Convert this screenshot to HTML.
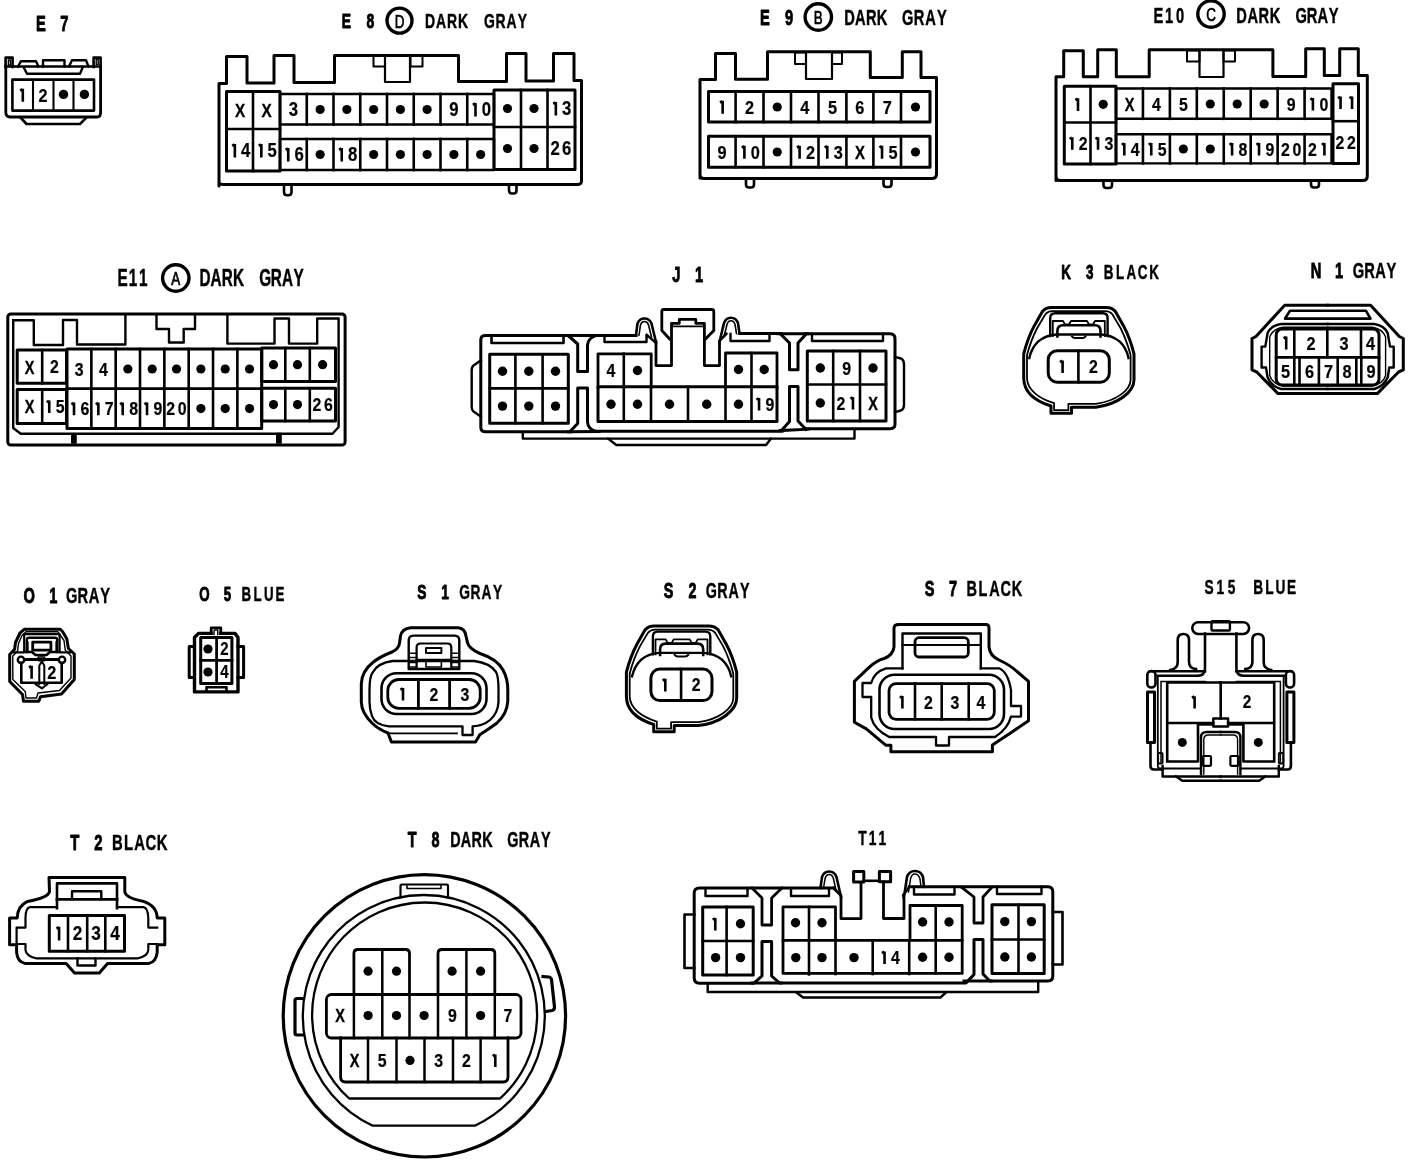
<!DOCTYPE html>
<html><head><meta charset="utf-8"><style>
html,body{margin:0;padding:0;background:#fff;}
svg{display:block;will-change:transform;}
text{font-family:"Liberation Sans",sans-serif;}
</style></head><body>
<svg width="1408" height="1160" viewBox="0 0 1408 1160" stroke="#000" stroke-linejoin="round" stroke-linecap="square" fill="none">
<rect x="0" y="0" width="1408" height="1160" fill="#fff" stroke="none"/>
<text transform="translate(40.95,30.60) scale(0.66,1)" font-size="22.22" font-weight="bold" text-anchor="middle" stroke="#000" stroke-width="0.9" fill="#000">E</text>
<text transform="translate(64.40,30.60) scale(0.66,1)" font-size="22.22" font-weight="bold" text-anchor="middle" stroke="#000" stroke-width="0.9" fill="#000">7</text>
<path d="M5.6,67 V57.6 H12.6 V67" stroke-width="2.6" fill="none" />
<rect x="8.4" y="60" width="2" height="5" rx="0" stroke-width="1.4" fill="none"/>
<path d="M93.6,67 V57.6 H100.6 V67" stroke-width="2.6" fill="none" />
<rect x="96.2" y="59.5" width="2" height="5" rx="0" stroke-width="1.4" fill="none"/>
<line x1="6" y1="66.5" x2="100" y2="66.5" stroke-width="2.6"/>
<path d="M18,66.5 L21,61.2 H36 L38.5,66.5" stroke-width="2.4" fill="none" />
<path d="M43,66.5 V60.2 H64.5 V66.5" stroke-width="2.4" fill="none" />
<path d="M69,66.5 L72,60.2 H86 L88.5,66.5" stroke-width="2.4" fill="none" />
<path d="M24,68 L27,73.8 H80 L82.5,68" stroke-width="2.4" fill="none" />
<path d="M5.8,66 V112 Q5.8,117 10,117 H97 Q100.6,117 100.6,112.5 V66" stroke-width="2.8" fill="none" />
<rect x="12.4" y="79.6" width="81.6" height="31" rx="0" stroke-width="2.6" fill="none"/>
<line x1="33" y1="80.5" x2="33" y2="110" stroke-width="2.1"/>
<line x1="53.5" y1="80.5" x2="53.5" y2="110" stroke-width="2.1"/>
<line x1="73.5" y1="80.5" x2="73.5" y2="110" stroke-width="2.1"/>
<path d="M20.5,117.5 L26.5,124 H80 L86.5,117.5" stroke-width="2.6" fill="none" />
<path d="M20.20,90.60 L22.50,89.10 M22.80,88.80 V101.80" stroke-width="2.6" stroke-linecap="butt" fill="none"/>
<text transform="translate(43.00,101.80) scale(0.86,1)" font-size="19.00" font-weight="bold" text-anchor="middle" stroke="#000" stroke-width="0.2" fill="#000">2</text>
<circle cx="63.5" cy="94.4" r="4.7" fill="#000" stroke="none"/>
<circle cx="84.4" cy="94.4" r="4.7" fill="#000" stroke="none"/>
<text transform="translate(346.30,27.60) scale(0.66,1)" font-size="21.12" font-weight="bold" text-anchor="middle" stroke="#000" stroke-width="0.9" fill="#000">E</text>
<text transform="translate(370.35,27.60) scale(0.66,1)" font-size="21.12" font-weight="bold" text-anchor="middle" stroke="#000" stroke-width="0.9" fill="#000">8</text>
<text transform="translate(429.91,27.60) scale(0.66,1)" font-size="21.12" font-weight="bold" text-anchor="middle" stroke="#000" stroke-width="0.45" fill="#000">D</text>
<text transform="translate(440.94,27.60) scale(0.66,1)" font-size="21.12" font-weight="bold" text-anchor="middle" stroke="#000" stroke-width="0.45" fill="#000">A</text>
<text transform="translate(451.96,27.60) scale(0.66,1)" font-size="21.12" font-weight="bold" text-anchor="middle" stroke="#000" stroke-width="0.45" fill="#000">R</text>
<text transform="translate(462.99,27.60) scale(0.66,1)" font-size="21.12" font-weight="bold" text-anchor="middle" stroke="#000" stroke-width="0.45" fill="#000">K</text>
<text transform="translate(489.50,27.60) scale(0.66,1)" font-size="21.12" font-weight="bold" text-anchor="middle" stroke="#000" stroke-width="0.45" fill="#000">G</text>
<text transform="translate(500.50,27.60) scale(0.66,1)" font-size="21.12" font-weight="bold" text-anchor="middle" stroke="#000" stroke-width="0.45" fill="#000">R</text>
<text transform="translate(511.50,27.60) scale(0.66,1)" font-size="21.12" font-weight="bold" text-anchor="middle" stroke="#000" stroke-width="0.45" fill="#000">A</text>
<text transform="translate(522.50,27.60) scale(0.66,1)" font-size="21.12" font-weight="bold" text-anchor="middle" stroke="#000" stroke-width="0.45" fill="#000">Y</text>
<circle cx="399.5" cy="20.6" r="12.5" stroke-width="3.4" fill="none"/>
<text transform="translate(399.50,27.50) scale(0.7,1)" font-size="19.20" font-weight="normal" text-anchor="middle" stroke="#000" stroke-width="0.7" fill="#000">D</text>
<path d="M219,186 V83.5 H226.5 V56.5 H247 V83 H274 V55.5 H294 V82.5 H334.5 V55.5 H458.5 V81.5 H506.5 V53.5 H526 V81 H553.5 V53.5 H574 V80.5 H581.5 V181 Q581.5,184.5 577,184.5 H224 Q219,184.5 219,182 Z" stroke-width="3.0" fill="none" />
<rect x="373.5" y="56" width="11.5" height="10.5" rx="0" stroke-width="2.0" fill="none"/>
<rect x="410.5" y="56" width="12" height="10.5" rx="0" stroke-width="2.0" fill="none"/>
<path d="M385,56 V82 H410 V56" stroke-width="2.2" fill="none" />
<path d="M284,186.5 V192 Q284,195.2 287,195.2 H288.5 Q291.5,195.2 291.5,192 V186.5" stroke-width="2.6" fill="none" />
<path d="M509,185 V190.5 Q509,193.5 512,193.5 H513.5 Q516.5,193.5 516.5,190.5 V185" stroke-width="2.6" fill="none" />
<rect x="226.5" y="91.5" width="53.5" height="79.5" rx="0" stroke-width="3.0" fill="none"/>
<line x1="226.5" y1="129" x2="280" y2="129" stroke-width="2.6"/>
<line x1="253" y1="91.5" x2="253" y2="171" stroke-width="2.6"/>
<rect x="280" y="94" width="214" height="30.5" rx="0" stroke-width="2.4" fill="none"/>
<rect x="280" y="139" width="214" height="31" rx="0" stroke-width="2.4" fill="none"/>
<line x1="306.75" y1="94" x2="306.75" y2="124.5" stroke-width="2.6"/>
<line x1="306.75" y1="139" x2="306.75" y2="170" stroke-width="2.6"/>
<line x1="333.5" y1="94" x2="333.5" y2="124.5" stroke-width="2.6"/>
<line x1="333.5" y1="139" x2="333.5" y2="170" stroke-width="2.6"/>
<line x1="360.25" y1="94" x2="360.25" y2="124.5" stroke-width="2.6"/>
<line x1="360.25" y1="139" x2="360.25" y2="170" stroke-width="2.6"/>
<line x1="387.0" y1="94" x2="387.0" y2="124.5" stroke-width="2.6"/>
<line x1="387.0" y1="139" x2="387.0" y2="170" stroke-width="2.6"/>
<line x1="413.75" y1="94" x2="413.75" y2="124.5" stroke-width="2.6"/>
<line x1="413.75" y1="139" x2="413.75" y2="170" stroke-width="2.6"/>
<line x1="440.5" y1="94" x2="440.5" y2="124.5" stroke-width="2.6"/>
<line x1="440.5" y1="139" x2="440.5" y2="170" stroke-width="2.6"/>
<line x1="467.25" y1="94" x2="467.25" y2="124.5" stroke-width="2.6"/>
<line x1="467.25" y1="139" x2="467.25" y2="170" stroke-width="2.6"/>
<rect x="494" y="90" width="81" height="79.5" rx="0" stroke-width="3.0" fill="none"/>
<line x1="494" y1="127" x2="575" y2="127" stroke-width="2.6"/>
<line x1="521" y1="90" x2="521" y2="169.5" stroke-width="2.6"/>
<line x1="547.5" y1="90" x2="547.5" y2="169.5" stroke-width="2.6"/>
<text transform="translate(240.00,117.28) scale(0.8,1)" font-size="19.11" font-weight="bold" text-anchor="middle" stroke="#000" stroke-width="0.35" fill="#000">X</text>
<path d="M232.25,145.92 L234.55,144.42 M234.85,144.12 V157.48" stroke-width="2.6" stroke-linecap="butt" fill="none"/>
<text transform="translate(245.75,157.48) scale(0.86,1)" font-size="19.50" font-weight="bold" text-anchor="middle" stroke="#000" stroke-width="0.2" fill="#000">4</text>
<text transform="translate(266.50,117.28) scale(0.8,1)" font-size="19.11" font-weight="bold" text-anchor="middle" stroke="#000" stroke-width="0.35" fill="#000">X</text>
<path d="M258.75,145.92 L261.05,144.42 M261.35,144.12 V157.48" stroke-width="2.6" stroke-linecap="butt" fill="none"/>
<text transform="translate(272.25,157.48) scale(0.86,1)" font-size="19.50" font-weight="bold" text-anchor="middle" stroke="#000" stroke-width="0.2" fill="#000">5</text>
<text transform="translate(293.38,116.48) scale(0.86,1)" font-size="19.50" font-weight="bold" text-anchor="middle" stroke="#000" stroke-width="0.2" fill="#000">3</text>
<path d="M285.62,149.92 L287.93,148.42 M288.23,148.12 V161.48" stroke-width="2.6" stroke-linecap="butt" fill="none"/>
<text transform="translate(299.12,161.48) scale(0.86,1)" font-size="19.50" font-weight="bold" text-anchor="middle" stroke="#000" stroke-width="0.2" fill="#000">6</text>
<circle cx="320.125" cy="109.5" r="4.6" fill="#000" stroke="none"/>
<circle cx="320.125" cy="154.5" r="4.6" fill="#000" stroke="none"/>
<circle cx="346.875" cy="109.5" r="4.6" fill="#000" stroke="none"/>
<path d="M339.12,149.92 L341.43,148.42 M341.73,148.12 V161.48" stroke-width="2.6" stroke-linecap="butt" fill="none"/>
<text transform="translate(352.62,161.48) scale(0.86,1)" font-size="19.50" font-weight="bold" text-anchor="middle" stroke="#000" stroke-width="0.2" fill="#000">8</text>
<circle cx="373.625" cy="109.5" r="4.6" fill="#000" stroke="none"/>
<circle cx="373.625" cy="154.5" r="4.6" fill="#000" stroke="none"/>
<circle cx="400.375" cy="109.5" r="4.6" fill="#000" stroke="none"/>
<circle cx="400.375" cy="154.5" r="4.6" fill="#000" stroke="none"/>
<circle cx="427.125" cy="109.5" r="4.6" fill="#000" stroke="none"/>
<circle cx="427.125" cy="154.5" r="4.6" fill="#000" stroke="none"/>
<text transform="translate(453.88,116.48) scale(0.86,1)" font-size="19.50" font-weight="bold" text-anchor="middle" stroke="#000" stroke-width="0.2" fill="#000">9</text>
<circle cx="453.875" cy="154.5" r="4.6" fill="#000" stroke="none"/>
<path d="M472.88,104.92 L475.18,103.42 M475.48,103.12 V116.48" stroke-width="2.6" stroke-linecap="butt" fill="none"/>
<text transform="translate(486.38,116.48) scale(0.86,1)" font-size="19.50" font-weight="bold" text-anchor="middle" stroke="#000" stroke-width="0.2" fill="#000">0</text>
<circle cx="480.625" cy="154.5" r="4.6" fill="#000" stroke="none"/>
<circle cx="507.5" cy="108.5" r="4.6" fill="#000" stroke="none"/>
<circle cx="507.5" cy="148.5" r="4.6" fill="#000" stroke="none"/>
<circle cx="534" cy="108.5" r="4.6" fill="#000" stroke="none"/>
<circle cx="534" cy="148.5" r="4.6" fill="#000" stroke="none"/>
<path d="M553.25,103.92 L555.55,102.42 M555.85,102.12 V115.48" stroke-width="2.6" stroke-linecap="butt" fill="none"/>
<text transform="translate(566.75,115.48) scale(0.86,1)" font-size="19.50" font-weight="bold" text-anchor="middle" stroke="#000" stroke-width="0.2" fill="#000">3</text>
<text transform="translate(555.25,155.48) scale(0.86,1)" font-size="19.50" font-weight="bold" text-anchor="middle" stroke="#000" stroke-width="0.2" fill="#000">2</text>
<text transform="translate(566.75,155.48) scale(0.86,1)" font-size="19.50" font-weight="bold" text-anchor="middle" stroke="#000" stroke-width="0.2" fill="#000">6</text>
<text transform="translate(765.00,24.60) scale(0.66,1)" font-size="22.22" font-weight="bold" text-anchor="middle" stroke="#000" stroke-width="0.9" fill="#000">E</text>
<text transform="translate(789.00,24.60) scale(0.66,1)" font-size="22.22" font-weight="bold" text-anchor="middle" stroke="#000" stroke-width="0.9" fill="#000">9</text>
<text transform="translate(849.45,24.60) scale(0.66,1)" font-size="22.22" font-weight="bold" text-anchor="middle" stroke="#000" stroke-width="0.45" fill="#000">D</text>
<text transform="translate(860.35,24.60) scale(0.66,1)" font-size="22.22" font-weight="bold" text-anchor="middle" stroke="#000" stroke-width="0.45" fill="#000">A</text>
<text transform="translate(871.25,24.60) scale(0.66,1)" font-size="22.22" font-weight="bold" text-anchor="middle" stroke="#000" stroke-width="0.45" fill="#000">R</text>
<text transform="translate(882.15,24.60) scale(0.66,1)" font-size="22.22" font-weight="bold" text-anchor="middle" stroke="#000" stroke-width="0.45" fill="#000">K</text>
<text transform="translate(907.70,24.60) scale(0.66,1)" font-size="22.22" font-weight="bold" text-anchor="middle" stroke="#000" stroke-width="0.45" fill="#000">G</text>
<text transform="translate(919.10,24.60) scale(0.66,1)" font-size="22.22" font-weight="bold" text-anchor="middle" stroke="#000" stroke-width="0.45" fill="#000">R</text>
<text transform="translate(930.50,24.60) scale(0.66,1)" font-size="22.22" font-weight="bold" text-anchor="middle" stroke="#000" stroke-width="0.45" fill="#000">A</text>
<text transform="translate(941.90,24.60) scale(0.66,1)" font-size="22.22" font-weight="bold" text-anchor="middle" stroke="#000" stroke-width="0.45" fill="#000">Y</text>
<circle cx="818.3" cy="17" r="13.2" stroke-width="3.4" fill="none"/>
<text transform="translate(818.30,24.00) scale(0.7,1)" font-size="19.20" font-weight="normal" text-anchor="middle" stroke="#000" stroke-width="0.7" fill="#000">B</text>
<path d="M700,178 V79.5 H715.5 V53.5 H735.5 V79.2 H767.5 V51.8 H870.3 V77.5 H902.3 V51.8 H921 V77.5 H936.5 V174 Q936.5,178.5 932,178.5 H704 Q700,178.5 700,174 Z" stroke-width="3.0" fill="none" />
<rect x="795" y="52.5" width="11" height="11.5" rx="0" stroke-width="2.0" fill="none"/>
<rect x="832" y="52.5" width="10" height="11.5" rx="0" stroke-width="2.0" fill="none"/>
<path d="M806,53 V79 H832 V53" stroke-width="2.2" fill="none" />
<path d="M746,179 V184.5 Q746,187.5 749,187.5 H751 Q754,187.5 754,184.5 V179" stroke-width="2.6" fill="none" />
<path d="M883.5,178.5 V184 Q883.5,187 886.5,187 H888.5 Q891.5,187 891.5,184 V178.5" stroke-width="2.6" fill="none" />
<rect x="708.5" y="91.5" width="221.5" height="30.5" rx="0" stroke-width="3.0" fill="none"/>
<rect x="708.5" y="136.2" width="221.5" height="31" rx="0" stroke-width="3.0" fill="none"/>
<line x1="735.6" y1="91.5" x2="735.6" y2="122" stroke-width="2.6"/>
<line x1="735.6" y1="136.2" x2="735.6" y2="167.2" stroke-width="2.6"/>
<line x1="763.5" y1="91.5" x2="763.5" y2="122" stroke-width="2.6"/>
<line x1="763.5" y1="136.2" x2="763.5" y2="167.2" stroke-width="2.6"/>
<line x1="791" y1="91.5" x2="791" y2="122" stroke-width="2.6"/>
<line x1="791" y1="136.2" x2="791" y2="167.2" stroke-width="2.6"/>
<line x1="818.5" y1="91.5" x2="818.5" y2="122" stroke-width="2.6"/>
<line x1="818.5" y1="136.2" x2="818.5" y2="167.2" stroke-width="2.6"/>
<line x1="846.4" y1="91.5" x2="846.4" y2="122" stroke-width="2.6"/>
<line x1="846.4" y1="136.2" x2="846.4" y2="167.2" stroke-width="2.6"/>
<line x1="873.4" y1="91.5" x2="873.4" y2="122" stroke-width="2.6"/>
<line x1="873.4" y1="136.2" x2="873.4" y2="167.2" stroke-width="2.6"/>
<line x1="901" y1="91.5" x2="901" y2="122" stroke-width="2.6"/>
<line x1="901" y1="136.2" x2="901" y2="167.2" stroke-width="2.6"/>
<path d="M720.05,102.60 L722.35,101.10 M722.65,100.80 V113.80" stroke-width="2.6" stroke-linecap="butt" fill="none"/>
<text transform="translate(722.05,158.80) scale(0.86,1)" font-size="19.00" font-weight="bold" text-anchor="middle" stroke="#000" stroke-width="0.2" fill="#000">9</text>
<text transform="translate(749.55,113.80) scale(0.86,1)" font-size="19.00" font-weight="bold" text-anchor="middle" stroke="#000" stroke-width="0.2" fill="#000">2</text>
<path d="M741.80,147.60 L744.10,146.10 M744.40,145.80 V158.80" stroke-width="2.6" stroke-linecap="butt" fill="none"/>
<text transform="translate(755.30,158.80) scale(0.86,1)" font-size="19.00" font-weight="bold" text-anchor="middle" stroke="#000" stroke-width="0.2" fill="#000">0</text>
<circle cx="777.25" cy="107" r="4.6" fill="#000" stroke="none"/>
<circle cx="777.25" cy="152" r="4.6" fill="#000" stroke="none"/>
<text transform="translate(804.75,113.80) scale(0.86,1)" font-size="19.00" font-weight="bold" text-anchor="middle" stroke="#000" stroke-width="0.2" fill="#000">4</text>
<path d="M797.00,147.60 L799.30,146.10 M799.60,145.80 V158.80" stroke-width="2.6" stroke-linecap="butt" fill="none"/>
<text transform="translate(810.50,158.80) scale(0.86,1)" font-size="19.00" font-weight="bold" text-anchor="middle" stroke="#000" stroke-width="0.2" fill="#000">2</text>
<text transform="translate(832.45,113.80) scale(0.86,1)" font-size="19.00" font-weight="bold" text-anchor="middle" stroke="#000" stroke-width="0.2" fill="#000">5</text>
<path d="M824.70,147.60 L827.00,146.10 M827.30,145.80 V158.80" stroke-width="2.6" stroke-linecap="butt" fill="none"/>
<text transform="translate(838.20,158.80) scale(0.86,1)" font-size="19.00" font-weight="bold" text-anchor="middle" stroke="#000" stroke-width="0.2" fill="#000">3</text>
<text transform="translate(859.90,113.80) scale(0.86,1)" font-size="19.00" font-weight="bold" text-anchor="middle" stroke="#000" stroke-width="0.2" fill="#000">6</text>
<text transform="translate(859.90,159.10) scale(0.8,1)" font-size="18.62" font-weight="bold" text-anchor="middle" stroke="#000" stroke-width="0.35" fill="#000">X</text>
<text transform="translate(887.20,113.80) scale(0.86,1)" font-size="19.00" font-weight="bold" text-anchor="middle" stroke="#000" stroke-width="0.2" fill="#000">7</text>
<path d="M879.45,147.60 L881.75,146.10 M882.05,145.80 V158.80" stroke-width="2.6" stroke-linecap="butt" fill="none"/>
<text transform="translate(892.95,158.80) scale(0.86,1)" font-size="19.00" font-weight="bold" text-anchor="middle" stroke="#000" stroke-width="0.2" fill="#000">5</text>
<circle cx="915.5" cy="107" r="4.6" fill="#000" stroke="none"/>
<circle cx="915.5" cy="152" r="4.6" fill="#000" stroke="none"/>
<text transform="translate(1158.27,22.60) scale(0.66,1)" font-size="22.22" font-weight="bold" text-anchor="middle" stroke="#000" stroke-width="0.45" fill="#000">E</text>
<text transform="translate(1169.20,22.60) scale(0.66,1)" font-size="22.22" font-weight="bold" text-anchor="middle" stroke="#000" stroke-width="0.45" fill="#000">1</text>
<text transform="translate(1180.13,22.60) scale(0.66,1)" font-size="22.22" font-weight="bold" text-anchor="middle" stroke="#000" stroke-width="0.45" fill="#000">0</text>
<text transform="translate(1241.56,22.60) scale(0.66,1)" font-size="22.22" font-weight="bold" text-anchor="middle" stroke="#000" stroke-width="0.45" fill="#000">D</text>
<text transform="translate(1252.69,22.60) scale(0.66,1)" font-size="22.22" font-weight="bold" text-anchor="middle" stroke="#000" stroke-width="0.45" fill="#000">A</text>
<text transform="translate(1263.81,22.60) scale(0.66,1)" font-size="22.22" font-weight="bold" text-anchor="middle" stroke="#000" stroke-width="0.45" fill="#000">R</text>
<text transform="translate(1274.94,22.60) scale(0.66,1)" font-size="22.22" font-weight="bold" text-anchor="middle" stroke="#000" stroke-width="0.45" fill="#000">K</text>
<text transform="translate(1301.20,22.60) scale(0.66,1)" font-size="22.22" font-weight="bold" text-anchor="middle" stroke="#000" stroke-width="0.45" fill="#000">G</text>
<text transform="translate(1312.00,22.60) scale(0.66,1)" font-size="22.22" font-weight="bold" text-anchor="middle" stroke="#000" stroke-width="0.45" fill="#000">R</text>
<text transform="translate(1322.80,22.60) scale(0.66,1)" font-size="22.22" font-weight="bold" text-anchor="middle" stroke="#000" stroke-width="0.45" fill="#000">A</text>
<text transform="translate(1333.60,22.60) scale(0.66,1)" font-size="22.22" font-weight="bold" text-anchor="middle" stroke="#000" stroke-width="0.45" fill="#000">Y</text>
<circle cx="1211" cy="14" r="13.2" stroke-width="3.4" fill="none"/>
<text transform="translate(1211.00,21.00) scale(0.7,1)" font-size="19.20" font-weight="normal" text-anchor="middle" stroke="#000" stroke-width="0.7" fill="#000">C</text>
<path d="M1056,180.5 V76.8 H1063.7 V50.8 H1083.3 V76.8 H1097.7 V49.8 H1116.3 V76.8 H1149.2 V49.8 H1272.9 V76.5 H1305.7 V48.7 H1324.3 V75.5 H1339.7 V48.7 H1358.3 V75.5 H1367.3 V176 Q1367.3,180.5 1363,180.5 H1060 Q1056,180.5 1056,176 Z" stroke-width="3.0" fill="none" />
<rect x="1187" y="50.5" width="12.5" height="11" rx="0" stroke-width="2.0" fill="none"/>
<rect x="1223.5" y="50.5" width="11.5" height="11" rx="0" stroke-width="2.0" fill="none"/>
<path d="M1199.5,50.5 V77 H1223.5 V50.5" stroke-width="2.2" fill="none" />
<path d="M1103.5,181 V185 Q1103.5,188 1106.5,188 H1109 Q1112,188 1112,185 V181" stroke-width="2.6" fill="none" />
<path d="M1311,180.5 V184.5 Q1311,187.5 1314,187.5 H1316 Q1319,187.5 1319,184.5 V180.5" stroke-width="2.6" fill="none" />
<rect x="1064.3" y="86.2" width="51.7" height="77.8" rx="0" stroke-width="3.0" fill="none"/>
<line x1="1064.3" y1="122.5" x2="1116" y2="122.5" stroke-width="2.6"/>
<line x1="1090.5" y1="86.2" x2="1090.5" y2="164" stroke-width="2.6"/>
<rect x="1116" y="88.5" width="215.5" height="30.3" rx="0" stroke-width="2.4" fill="none"/>
<rect x="1116" y="134.2" width="215.5" height="29.2" rx="0" stroke-width="2.4" fill="none"/>
<line x1="1142.94" y1="88.5" x2="1142.94" y2="118.8" stroke-width="2.6"/>
<line x1="1142.94" y1="134.2" x2="1142.94" y2="163.4" stroke-width="2.6"/>
<line x1="1169.88" y1="88.5" x2="1169.88" y2="118.8" stroke-width="2.6"/>
<line x1="1169.88" y1="134.2" x2="1169.88" y2="163.4" stroke-width="2.6"/>
<line x1="1196.82" y1="88.5" x2="1196.82" y2="118.8" stroke-width="2.6"/>
<line x1="1196.82" y1="134.2" x2="1196.82" y2="163.4" stroke-width="2.6"/>
<line x1="1223.76" y1="88.5" x2="1223.76" y2="118.8" stroke-width="2.6"/>
<line x1="1223.76" y1="134.2" x2="1223.76" y2="163.4" stroke-width="2.6"/>
<line x1="1250.7" y1="88.5" x2="1250.7" y2="118.8" stroke-width="2.6"/>
<line x1="1250.7" y1="134.2" x2="1250.7" y2="163.4" stroke-width="2.6"/>
<line x1="1277.64" y1="88.5" x2="1277.64" y2="118.8" stroke-width="2.6"/>
<line x1="1277.64" y1="134.2" x2="1277.64" y2="163.4" stroke-width="2.6"/>
<line x1="1304.58" y1="88.5" x2="1304.58" y2="118.8" stroke-width="2.6"/>
<line x1="1304.58" y1="134.2" x2="1304.58" y2="163.4" stroke-width="2.6"/>
<rect x="1333" y="83.8" width="25.5" height="79.6" rx="0" stroke-width="3.0" fill="none"/>
<line x1="1333" y1="121.2" x2="1358.5" y2="121.2" stroke-width="2.6"/>
<path d="M1075.40,100.08 L1077.70,98.58 M1078.00,98.28 V110.92" stroke-width="2.6" stroke-linecap="butt" fill="none"/>
<path d="M1069.65,138.98 L1071.95,137.48 M1072.25,137.18 V149.82" stroke-width="2.6" stroke-linecap="butt" fill="none"/>
<text transform="translate(1083.15,149.82) scale(0.86,1)" font-size="18.50" font-weight="bold" text-anchor="middle" stroke="#000" stroke-width="0.2" fill="#000">2</text>
<circle cx="1103.2" cy="104.3" r="4.6" fill="#000" stroke="none"/>
<path d="M1095.45,138.98 L1097.75,137.48 M1098.05,137.18 V149.82" stroke-width="2.6" stroke-linecap="butt" fill="none"/>
<text transform="translate(1108.95,149.82) scale(0.86,1)" font-size="18.50" font-weight="bold" text-anchor="middle" stroke="#000" stroke-width="0.2" fill="#000">3</text>
<text transform="translate(1129.47,110.92) scale(0.8,1)" font-size="18.13" font-weight="bold" text-anchor="middle" stroke="#000" stroke-width="0.35" fill="#000">X</text>
<path d="M1121.72,144.78 L1124.02,143.28 M1124.32,142.98 V155.62" stroke-width="2.6" stroke-linecap="butt" fill="none"/>
<text transform="translate(1135.22,155.62) scale(0.86,1)" font-size="18.50" font-weight="bold" text-anchor="middle" stroke="#000" stroke-width="0.2" fill="#000">4</text>
<text transform="translate(1156.41,110.62) scale(0.86,1)" font-size="18.50" font-weight="bold" text-anchor="middle" stroke="#000" stroke-width="0.2" fill="#000">4</text>
<path d="M1148.66,144.78 L1150.96,143.28 M1151.26,142.98 V155.62" stroke-width="2.6" stroke-linecap="butt" fill="none"/>
<text transform="translate(1162.16,155.62) scale(0.86,1)" font-size="18.50" font-weight="bold" text-anchor="middle" stroke="#000" stroke-width="0.2" fill="#000">5</text>
<text transform="translate(1183.35,110.62) scale(0.86,1)" font-size="18.50" font-weight="bold" text-anchor="middle" stroke="#000" stroke-width="0.2" fill="#000">5</text>
<circle cx="1183.35" cy="149" r="4.6" fill="#000" stroke="none"/>
<circle cx="1210.29" cy="104" r="4.6" fill="#000" stroke="none"/>
<circle cx="1210.29" cy="149" r="4.6" fill="#000" stroke="none"/>
<circle cx="1237.23" cy="104" r="4.6" fill="#000" stroke="none"/>
<path d="M1229.48,144.78 L1231.78,143.28 M1232.08,142.98 V155.62" stroke-width="2.6" stroke-linecap="butt" fill="none"/>
<text transform="translate(1242.98,155.62) scale(0.86,1)" font-size="18.50" font-weight="bold" text-anchor="middle" stroke="#000" stroke-width="0.2" fill="#000">8</text>
<circle cx="1264.17" cy="104" r="4.6" fill="#000" stroke="none"/>
<path d="M1256.42,144.78 L1258.72,143.28 M1259.02,142.98 V155.62" stroke-width="2.6" stroke-linecap="butt" fill="none"/>
<text transform="translate(1269.92,155.62) scale(0.86,1)" font-size="18.50" font-weight="bold" text-anchor="middle" stroke="#000" stroke-width="0.2" fill="#000">9</text>
<text transform="translate(1291.11,110.62) scale(0.86,1)" font-size="18.50" font-weight="bold" text-anchor="middle" stroke="#000" stroke-width="0.2" fill="#000">9</text>
<text transform="translate(1285.36,155.62) scale(0.86,1)" font-size="18.50" font-weight="bold" text-anchor="middle" stroke="#000" stroke-width="0.2" fill="#000">2</text>
<text transform="translate(1296.86,155.62) scale(0.86,1)" font-size="18.50" font-weight="bold" text-anchor="middle" stroke="#000" stroke-width="0.2" fill="#000">0</text>
<path d="M1310.30,99.78 L1312.60,98.28 M1312.90,97.98 V110.62" stroke-width="2.6" stroke-linecap="butt" fill="none"/>
<text transform="translate(1323.80,110.62) scale(0.86,1)" font-size="18.50" font-weight="bold" text-anchor="middle" stroke="#000" stroke-width="0.2" fill="#000">0</text>
<text transform="translate(1312.30,155.62) scale(0.86,1)" font-size="18.50" font-weight="bold" text-anchor="middle" stroke="#000" stroke-width="0.2" fill="#000">2</text>
<path d="M1321.80,144.78 L1324.10,143.28 M1324.40,142.98 V155.62" stroke-width="2.6" stroke-linecap="butt" fill="none"/>
<path d="M1337.95,98.28 L1340.25,96.78 M1340.55,96.48 V109.12" stroke-width="2.6" stroke-linecap="butt" fill="none"/>
<path d="M1349.45,98.28 L1351.75,96.78 M1352.05,96.48 V109.12" stroke-width="2.6" stroke-linecap="butt" fill="none"/>
<text transform="translate(1339.95,148.92) scale(0.86,1)" font-size="18.50" font-weight="bold" text-anchor="middle" stroke="#000" stroke-width="0.2" fill="#000">2</text>
<text transform="translate(1351.45,148.92) scale(0.86,1)" font-size="18.50" font-weight="bold" text-anchor="middle" stroke="#000" stroke-width="0.2" fill="#000">2</text>
<text transform="translate(122.72,286.30) scale(0.66,1)" font-size="23.18" font-weight="bold" text-anchor="middle" stroke="#000" stroke-width="0.45" fill="#000">E</text>
<text transform="translate(132.95,286.30) scale(0.66,1)" font-size="23.18" font-weight="bold" text-anchor="middle" stroke="#000" stroke-width="0.45" fill="#000">1</text>
<text transform="translate(143.18,286.30) scale(0.66,1)" font-size="23.18" font-weight="bold" text-anchor="middle" stroke="#000" stroke-width="0.45" fill="#000">1</text>
<text transform="translate(204.97,286.30) scale(0.66,1)" font-size="23.18" font-weight="bold" text-anchor="middle" stroke="#000" stroke-width="0.45" fill="#000">D</text>
<text transform="translate(216.12,286.30) scale(0.66,1)" font-size="23.18" font-weight="bold" text-anchor="middle" stroke="#000" stroke-width="0.45" fill="#000">A</text>
<text transform="translate(227.28,286.30) scale(0.66,1)" font-size="23.18" font-weight="bold" text-anchor="middle" stroke="#000" stroke-width="0.45" fill="#000">R</text>
<text transform="translate(238.43,286.30) scale(0.66,1)" font-size="23.18" font-weight="bold" text-anchor="middle" stroke="#000" stroke-width="0.45" fill="#000">K</text>
<text transform="translate(265.10,286.30) scale(0.66,1)" font-size="23.18" font-weight="bold" text-anchor="middle" stroke="#000" stroke-width="0.45" fill="#000">G</text>
<text transform="translate(276.30,286.30) scale(0.66,1)" font-size="23.18" font-weight="bold" text-anchor="middle" stroke="#000" stroke-width="0.45" fill="#000">R</text>
<text transform="translate(287.50,286.30) scale(0.66,1)" font-size="23.18" font-weight="bold" text-anchor="middle" stroke="#000" stroke-width="0.45" fill="#000">A</text>
<text transform="translate(298.70,286.30) scale(0.66,1)" font-size="23.18" font-weight="bold" text-anchor="middle" stroke="#000" stroke-width="0.45" fill="#000">Y</text>
<circle cx="175.8" cy="278" r="13.2" stroke-width="3.4" fill="none"/>
<text transform="translate(175.80,285.00) scale(0.7,1)" font-size="19.20" font-weight="normal" text-anchor="middle" stroke="#000" stroke-width="0.7" fill="#000">A</text>
<rect x="7.8" y="313.9" width="337.3" height="131.1" rx="3" stroke-width="3.0" fill="none"/>
<path d="M13.2,320.2 H33.8 V345 H63 V320 H77 V344.5 H125.4 V314.5" stroke-width="2.4" fill="none" />
<path d="M156.5,314.5 V329 H169 V342.5 H183.7 V329 H195 V314.5" stroke-width="2.4" fill="none" />
<path d="M227.4,314.5 V343.6 H274.5 V318.5 H289 V343.6 H317.2 V318.5 H338.6 V427 L332.5,433.7 H20.7 L13.2,428 V320.2" stroke-width="2.4" fill="none" />
<rect x="71.8" y="434.5" width="4.2" height="8.5" rx="0" stroke-width="1.6" fill="#000"/>
<rect x="276.8" y="433.5" width="4.2" height="9.5" rx="0" stroke-width="1.6" fill="#000"/>
<rect x="17.2" y="350" width="49.3" height="33.3" rx="0" stroke-width="3.0" fill="none"/>
<rect x="17.2" y="389.5" width="49.3" height="33.9" rx="0" stroke-width="3.0" fill="none"/>
<line x1="42.2" y1="350" x2="42.2" y2="383.3" stroke-width="2.6"/>
<line x1="42.2" y1="389.5" x2="42.2" y2="423.4" stroke-width="2.6"/>
<rect x="67" y="349" width="194.7" height="79.6" rx="0" stroke-width="3.0" fill="none"/>
<line x1="67" y1="388.6" x2="261.7" y2="388.6" stroke-width="2.8"/>
<line x1="91.34" y1="349" x2="91.34" y2="428.6" stroke-width="2.6"/>
<line x1="115.68" y1="349" x2="115.68" y2="428.6" stroke-width="2.6"/>
<line x1="140.01999999999998" y1="349" x2="140.01999999999998" y2="428.6" stroke-width="2.6"/>
<line x1="164.36" y1="349" x2="164.36" y2="428.6" stroke-width="2.6"/>
<line x1="188.7" y1="349" x2="188.7" y2="428.6" stroke-width="2.6"/>
<line x1="213.04" y1="349" x2="213.04" y2="428.6" stroke-width="2.6"/>
<line x1="237.38" y1="349" x2="237.38" y2="428.6" stroke-width="2.6"/>
<rect x="261.7" y="348" width="73.8" height="33.4" rx="0" stroke-width="3.0" fill="none"/>
<rect x="261.7" y="388.2" width="73.8" height="32.8" rx="0" stroke-width="3.0" fill="none"/>
<line x1="285.3" y1="348" x2="285.3" y2="381.4" stroke-width="2.6"/>
<line x1="309.8" y1="348" x2="309.8" y2="381.4" stroke-width="2.6"/>
<line x1="285.3" y1="388.2" x2="285.3" y2="421" stroke-width="2.6"/>
<line x1="309.8" y1="388.2" x2="309.8" y2="421" stroke-width="2.6"/>
<text transform="translate(29.70,373.52) scale(0.8,1)" font-size="18.13" font-weight="bold" text-anchor="middle" stroke="#000" stroke-width="0.35" fill="#000">X</text>
<text transform="translate(29.70,413.42) scale(0.8,1)" font-size="18.13" font-weight="bold" text-anchor="middle" stroke="#000" stroke-width="0.35" fill="#000">X</text>
<text transform="translate(54.40,373.22) scale(0.86,1)" font-size="18.50" font-weight="bold" text-anchor="middle" stroke="#000" stroke-width="0.2" fill="#000">2</text>
<path d="M46.65,402.28 L48.95,400.78 M49.25,400.48 V413.12" stroke-width="2.6" stroke-linecap="butt" fill="none"/>
<text transform="translate(60.15,413.12) scale(0.86,1)" font-size="18.50" font-weight="bold" text-anchor="middle" stroke="#000" stroke-width="0.2" fill="#000">5</text>
<text transform="translate(79.17,375.62) scale(0.86,1)" font-size="18.50" font-weight="bold" text-anchor="middle" stroke="#000" stroke-width="0.2" fill="#000">3</text>
<path d="M71.42,404.38 L73.72,402.88 M74.02,402.58 V415.22" stroke-width="2.6" stroke-linecap="butt" fill="none"/>
<text transform="translate(84.92,415.22) scale(0.86,1)" font-size="18.50" font-weight="bold" text-anchor="middle" stroke="#000" stroke-width="0.2" fill="#000">6</text>
<text transform="translate(103.51,375.62) scale(0.86,1)" font-size="18.50" font-weight="bold" text-anchor="middle" stroke="#000" stroke-width="0.2" fill="#000">4</text>
<path d="M95.76,404.38 L98.06,402.88 M98.36,402.58 V415.22" stroke-width="2.6" stroke-linecap="butt" fill="none"/>
<text transform="translate(109.26,415.22) scale(0.86,1)" font-size="18.50" font-weight="bold" text-anchor="middle" stroke="#000" stroke-width="0.2" fill="#000">7</text>
<circle cx="127.85" cy="369" r="4.6" fill="#000" stroke="none"/>
<path d="M120.10,404.38 L122.40,402.88 M122.70,402.58 V415.22" stroke-width="2.6" stroke-linecap="butt" fill="none"/>
<text transform="translate(133.60,415.22) scale(0.86,1)" font-size="18.50" font-weight="bold" text-anchor="middle" stroke="#000" stroke-width="0.2" fill="#000">8</text>
<circle cx="152.19" cy="369" r="4.6" fill="#000" stroke="none"/>
<path d="M144.44,404.38 L146.74,402.88 M147.04,402.58 V415.22" stroke-width="2.6" stroke-linecap="butt" fill="none"/>
<text transform="translate(157.94,415.22) scale(0.86,1)" font-size="18.50" font-weight="bold" text-anchor="middle" stroke="#000" stroke-width="0.2" fill="#000">9</text>
<circle cx="176.53" cy="369" r="4.6" fill="#000" stroke="none"/>
<text transform="translate(170.78,415.22) scale(0.86,1)" font-size="18.50" font-weight="bold" text-anchor="middle" stroke="#000" stroke-width="0.2" fill="#000">2</text>
<text transform="translate(182.28,415.22) scale(0.86,1)" font-size="18.50" font-weight="bold" text-anchor="middle" stroke="#000" stroke-width="0.2" fill="#000">0</text>
<circle cx="200.87" cy="369" r="4.6" fill="#000" stroke="none"/>
<circle cx="200.87" cy="408.6" r="4.6" fill="#000" stroke="none"/>
<circle cx="225.21" cy="369" r="4.6" fill="#000" stroke="none"/>
<circle cx="225.21" cy="408.6" r="4.6" fill="#000" stroke="none"/>
<circle cx="249.55" cy="369" r="4.6" fill="#000" stroke="none"/>
<circle cx="249.55" cy="408.6" r="4.6" fill="#000" stroke="none"/>
<circle cx="273.5" cy="364.7" r="4.6" fill="#000" stroke="none"/>
<circle cx="273.5" cy="404.6" r="4.6" fill="#000" stroke="none"/>
<circle cx="297.5" cy="364.7" r="4.6" fill="#000" stroke="none"/>
<circle cx="297.5" cy="404.6" r="4.6" fill="#000" stroke="none"/>
<circle cx="322.6" cy="364.7" r="4.6" fill="#000" stroke="none"/>
<text transform="translate(316.85,411.22) scale(0.86,1)" font-size="18.50" font-weight="bold" text-anchor="middle" stroke="#000" stroke-width="0.2" fill="#000">2</text>
<text transform="translate(328.35,411.22) scale(0.86,1)" font-size="18.50" font-weight="bold" text-anchor="middle" stroke="#000" stroke-width="0.2" fill="#000">6</text>
<text transform="translate(676.25,281.60) scale(0.66,1)" font-size="22.22" font-weight="bold" text-anchor="middle" stroke="#000" stroke-width="0.9" fill="#000">J</text>
<text transform="translate(699.00,281.60) scale(0.66,1)" font-size="22.22" font-weight="bold" text-anchor="middle" stroke="#000" stroke-width="0.9" fill="#000">1</text>
<path d="M568.6,335.5 H485 Q480.8,335.5 480.8,340 V427 Q480.8,431.8 485.5,431.8 H571" stroke-width="3.0" fill="none" />
<path d="M480.8,360.5 L473.5,365.5 Q471.7,367 471.7,370 V407 Q471.7,410 473.5,411.5 L480.8,416.5" stroke-width="2.4" fill="none" />
<path d="M491.5,336 V343 H563.5 V336" stroke-width="2.6" fill="none" />
<path d="M568.6,336 L577.7,344 V371.5 H587.5 V345 Q588,338 596,335.6 H636" stroke-width="3.0" fill="none" />
<line x1="566" y1="335.6" x2="598" y2="335.4" stroke-width="3.0"/>
<path d="M570,431.5 L577.7,423.5 V388 H587.5 V422 Q588,429.5 596.5,431.4" stroke-width="3.0" fill="none" />
<line x1="568" y1="431.7" x2="599" y2="431.4" stroke-width="3.0"/>
<rect x="489.7" y="354.3" width="78.6" height="68.9" rx="0" stroke-width="3.0" fill="none"/>
<line x1="489.7" y1="388.4" x2="568.3" y2="388.4" stroke-width="2.6"/>
<line x1="515.4" y1="354.3" x2="515.4" y2="423.2" stroke-width="2.6"/>
<line x1="542.6" y1="354.3" x2="542.6" y2="423.2" stroke-width="2.6"/>
<circle cx="502.5" cy="371.2" r="4.7" fill="#000" stroke="none"/>
<circle cx="502.5" cy="406.1" r="4.7" fill="#000" stroke="none"/>
<circle cx="528.8" cy="371.2" r="4.7" fill="#000" stroke="none"/>
<circle cx="528.8" cy="406.1" r="4.7" fill="#000" stroke="none"/>
<circle cx="555.5" cy="371.2" r="4.7" fill="#000" stroke="none"/>
<circle cx="555.5" cy="406.1" r="4.7" fill="#000" stroke="none"/>
<path d="M604.5,335.2 V342 H646.5 V335.5 M646.8,334.8 L655,342" stroke-width="2.4" fill="none" />
<path d="M730.5,334 V341 H769.5 V334 M726.4,333.8 L719.4,341" stroke-width="2.4" fill="none" />
<path d="M669.7,339 L661.8,330.5 V311.5 Q661.8,309.5 664,309.5 H711.5 Q713.8,309.5 713.8,311.5 V330.5 L705.5,339" stroke-width="2.8" fill="none" />
<path d="M656,342 V365.6 H671.5 V323.3 H679.3 V319.4 H695.8 V323.3 H704.4 V365.6 H719.5 V342" stroke-width="2.8" fill="none" />
<line x1="672.5" y1="326.3" x2="703.5" y2="326.3" stroke-width="1.8"/>
<path d="M636,335 L637.5,323.5 Q639.5,318.5 644.5,318.5 Q649.5,318.5 651.5,323.5 L656,342" stroke-width="2.6" fill="none" />
<path d="M639,335 L640.5,325 Q641.5,321.5 644.5,321.5 Q647.5,321.5 648.5,325 L651.5,337" stroke-width="1.6" fill="none" />
<path d="M739.5,333.5 L738,323 Q736,317.8 731,317.8 Q726,317.8 724,323 L719.5,342" stroke-width="2.6" fill="none" />
<path d="M736.5,333.5 L735,324.5 Q734,320.8 731,320.8 Q728,320.8 727,324.5 L724,336.5" stroke-width="1.6" fill="none" />
<line x1="739.5" y1="333.6" x2="781" y2="333.6" stroke-width="3.0"/>
<path d="M598,387.2 V353.8 H651.2 V387.2" stroke-width="2.8" fill="none" />
<line x1="623.8" y1="353.8" x2="623.8" y2="421.5" stroke-width="2.6"/>
<path d="M725.5,387 V353 H777 V387" stroke-width="2.8" fill="none" />
<line x1="751.5" y1="353" x2="751.5" y2="421.2" stroke-width="2.6"/>
<rect x="598" y="386.8" width="179" height="34.7" rx="0" stroke-width="3.0" fill="none"/>
<line x1="651" y1="387" x2="651" y2="421.5" stroke-width="2.6"/>
<line x1="688" y1="387" x2="688" y2="421.5" stroke-width="2.6"/>
<line x1="725.5" y1="387" x2="725.5" y2="421.5" stroke-width="2.6"/>
<path d="M597,431.2 H782" stroke-width="3.0" fill="none" />
<path d="M781,334.5 L789.5,343 V369.8 H798 V343 L806,334" stroke-width="3.0" fill="none" />
<line x1="778" y1="333.8" x2="808" y2="333.8" stroke-width="3.0"/>
<path d="M782,430 L789.5,421.5 V386.5 H798 V421 L806,429.5" stroke-width="3.0" fill="none" />
<line x1="780" y1="430.6" x2="808" y2="429.2" stroke-width="3.0"/>
<path d="M806,333.8 H890 Q895,333.8 895,338.8 V424 Q895,428.7 890,428.7 H806" stroke-width="3.0" fill="none" />
<path d="M812,334 V341 H883 V334" stroke-width="2.4" fill="none" />
<path d="M895,357 L901,358.5 Q904,360 904,364 V405 Q904,409 901,410.5 L895,412" stroke-width="2.4" fill="none" />
<rect x="807.3" y="351" width="78.7" height="70" rx="0" stroke-width="3.0" fill="none"/>
<line x1="807.3" y1="384.5" x2="886" y2="384.5" stroke-width="2.6"/>
<line x1="833.2" y1="351" x2="833.2" y2="421" stroke-width="2.6"/>
<line x1="860" y1="351" x2="860" y2="421" stroke-width="2.6"/>
<path d="M522.8,432 V438.6 H854.5 V429.5" stroke-width="2.4" fill="none" />
<path d="M608,438.6 L616.3,445 H766 L771,438.6" stroke-width="2.4" fill="none" />
<text transform="translate(611.00,377.12) scale(0.86,1)" font-size="18.50" font-weight="bold" text-anchor="middle" stroke="#000" stroke-width="0.2" fill="#000">4</text>
<circle cx="637.5" cy="370.5" r="4.7" fill="#000" stroke="none"/>
<circle cx="738.5" cy="369.5" r="4.7" fill="#000" stroke="none"/>
<circle cx="764.2" cy="369.5" r="4.7" fill="#000" stroke="none"/>
<circle cx="611" cy="404.3" r="4.7" fill="#000" stroke="none"/>
<circle cx="637.5" cy="404.3" r="4.7" fill="#000" stroke="none"/>
<circle cx="669.5" cy="404.3" r="4.7" fill="#000" stroke="none"/>
<circle cx="706.7" cy="404.3" r="4.7" fill="#000" stroke="none"/>
<circle cx="738.5" cy="404.3" r="4.7" fill="#000" stroke="none"/>
<path d="M756.45,399.78 L758.75,398.28 M759.05,397.98 V410.62" stroke-width="2.6" stroke-linecap="butt" fill="none"/>
<text transform="translate(769.95,410.62) scale(0.86,1)" font-size="18.50" font-weight="bold" text-anchor="middle" stroke="#000" stroke-width="0.2" fill="#000">9</text>
<circle cx="820.3" cy="368" r="4.7" fill="#000" stroke="none"/>
<text transform="translate(846.60,374.62) scale(0.86,1)" font-size="18.50" font-weight="bold" text-anchor="middle" stroke="#000" stroke-width="0.2" fill="#000">9</text>
<circle cx="873" cy="368" r="4.7" fill="#000" stroke="none"/>
<circle cx="820.3" cy="403" r="4.7" fill="#000" stroke="none"/>
<text transform="translate(840.85,409.62) scale(0.86,1)" font-size="18.50" font-weight="bold" text-anchor="middle" stroke="#000" stroke-width="0.2" fill="#000">2</text>
<path d="M850.35,398.78 L852.65,397.28 M852.95,396.98 V409.62" stroke-width="2.6" stroke-linecap="butt" fill="none"/>
<text transform="translate(873.00,409.92) scale(0.8,1)" font-size="18.13" font-weight="bold" text-anchor="middle" stroke="#000" stroke-width="0.35" fill="#000">X</text>
<text transform="translate(1066.20,278.80) scale(0.66,1)" font-size="20.30" font-weight="bold" text-anchor="middle" stroke="#000" stroke-width="0.9" fill="#000">K</text>
<text transform="translate(1089.75,278.80) scale(0.66,1)" font-size="20.30" font-weight="bold" text-anchor="middle" stroke="#000" stroke-width="0.9" fill="#000">3</text>
<text transform="translate(1108.67,278.80) scale(0.66,1)" font-size="20.30" font-weight="bold" text-anchor="middle" stroke="#000" stroke-width="0.45" fill="#000">B</text>
<text transform="translate(1120.01,278.80) scale(0.66,1)" font-size="20.30" font-weight="bold" text-anchor="middle" stroke="#000" stroke-width="0.45" fill="#000">L</text>
<text transform="translate(1131.35,278.80) scale(0.66,1)" font-size="20.30" font-weight="bold" text-anchor="middle" stroke="#000" stroke-width="0.45" fill="#000">A</text>
<text transform="translate(1142.69,278.80) scale(0.66,1)" font-size="20.30" font-weight="bold" text-anchor="middle" stroke="#000" stroke-width="0.45" fill="#000">C</text>
<text transform="translate(1154.03,278.80) scale(0.66,1)" font-size="20.30" font-weight="bold" text-anchor="middle" stroke="#000" stroke-width="0.45" fill="#000">K</text>
<path d="M1051.5,307.5 H1106 Q1112,307.5 1115.4,311.4 L1123.6,325.9 Q1130,338 1134,353.8 V379.7 C1134,392 1118,404.5 1095.7,407.2 H1071.5 V413.3 H1051 V406 C1035,401 1024,392 1023.7,378.2 V353.8 Q1027.8,338 1034.2,325.9 L1042.4,311.4 Q1045.8,307.5 1051.5,307.5 Z" stroke-width="3.0" fill="none" />
<path d="M1052,311.2 H1105 Q1110,311.2 1112.5,314.5 L1120.5,328 Q1126.5,340 1130.6,355 V379.7 C1130.6,390 1116,401.2 1095.7,403.8 H1068.4 V410.2 H1054.1 V403.2 C1039,398.5 1027.3,390 1027,378.2 V355 Q1031,340 1037.2,328 L1045.2,314.5 Q1047.8,311.2 1052,311.2 Z" stroke-width="1.8" fill="none" />
<path d="M1029.3,358 Q1031.5,348 1038.3,341.4 Q1046,335 1056.5,334.5 H1101 Q1111.5,335 1119.5,341.4 Q1126.5,348 1128.5,358" stroke-width="2.4" fill="none" />
<path d="M1050.2,336 V318 Q1050.2,313.2 1055,313.2 H1103 Q1107.6,313.2 1107.6,318 V336" stroke-width="2.4" fill="none" />
<path d="M1052.8,336 V321 H1063 L1065,324.5 H1069 L1071,321 H1087 L1089,324.5 H1093 L1095,321 H1104.8 V336" stroke-width="1.8" fill="none" />
<path d="M1057.4,336.5 V331 Q1057.4,325.2 1063,325.2 H1095 Q1100.5,325.2 1100.5,331 V336.5" stroke-width="2.6" fill="none" />
<path d="M1072,336.5 Q1073,338 1075,338 H1082.5 Q1084.5,338 1085.5,336.5" stroke-width="2.0" fill="none" />
<rect x="1048.2" y="350.7" width="61.1" height="31.5" rx="9" stroke-width="3.0" fill="none"/>
<line x1="1078.4" y1="350.7" x2="1078.4" y2="382.2" stroke-width="2.6"/>
<path d="M1060.00,362.18 L1062.30,360.68 M1062.60,360.38 V373.02" stroke-width="2.6" stroke-linecap="butt" fill="none"/>
<text transform="translate(1093.50,373.02) scale(0.86,1)" font-size="18.50" font-weight="bold" text-anchor="middle" stroke="#000" stroke-width="0.2" fill="#000">2</text>
<g transform="translate(-397.3,318.4)">
<path d="M1051.5,307.5 H1106 Q1112,307.5 1115.4,311.4 L1123.6,325.9 Q1130,338 1134,353.8 V379.7 C1134,392 1118,404.5 1095.7,407.2 H1071.5 V413.3 H1051 V406 C1035,401 1024,392 1023.7,378.2 V353.8 Q1027.8,338 1034.2,325.9 L1042.4,311.4 Q1045.8,307.5 1051.5,307.5 Z" stroke-width="3.0" fill="none" />
<path d="M1052,311.2 H1105 Q1110,311.2 1112.5,314.5 L1120.5,328 Q1126.5,340 1130.6,355 V379.7 C1130.6,390 1116,401.2 1095.7,403.8 H1068.4 V410.2 H1054.1 V403.2 C1039,398.5 1027.3,390 1027,378.2 V355 Q1031,340 1037.2,328 L1045.2,314.5 Q1047.8,311.2 1052,311.2 Z" stroke-width="1.8" fill="none" />
<path d="M1029.3,358 Q1031.5,348 1038.3,341.4 Q1046,335 1056.5,334.5 H1101 Q1111.5,335 1119.5,341.4 Q1126.5,348 1128.5,358" stroke-width="2.4" fill="none" />
<path d="M1050.2,336 V318 Q1050.2,313.2 1055,313.2 H1103 Q1107.6,313.2 1107.6,318 V336" stroke-width="2.4" fill="none" />
<path d="M1052.8,336 V321 H1063 L1065,324.5 H1069 L1071,321 H1087 L1089,324.5 H1093 L1095,321 H1104.8 V336" stroke-width="1.8" fill="none" />
<path d="M1057.4,336.5 V331 Q1057.4,325.2 1063,325.2 H1095 Q1100.5,325.2 1100.5,331 V336.5" stroke-width="2.6" fill="none" />
<path d="M1072,336.5 Q1073,338 1075,338 H1082.5 Q1084.5,338 1085.5,336.5" stroke-width="2.0" fill="none" />
<rect x="1048.2" y="350.7" width="61.1" height="31.5" rx="9" stroke-width="3.0" fill="none"/>
<line x1="1078.4" y1="350.7" x2="1078.4" y2="382.2" stroke-width="2.6"/>
<path d="M1060.00,362.18 L1062.30,360.68 M1062.60,360.38 V373.02" stroke-width="2.6" stroke-linecap="butt" fill="none"/>
<text transform="translate(1093.50,373.02) scale(0.86,1)" font-size="18.50" font-weight="bold" text-anchor="middle" stroke="#000" stroke-width="0.2" fill="#000">2</text>
</g>
<text transform="translate(668.50,597.80) scale(0.66,1)" font-size="21.67" font-weight="bold" text-anchor="middle" stroke="#000" stroke-width="0.9" fill="#000">S</text>
<text transform="translate(692.45,597.80) scale(0.66,1)" font-size="21.67" font-weight="bold" text-anchor="middle" stroke="#000" stroke-width="0.9" fill="#000">2</text>
<text transform="translate(711.35,597.80) scale(0.66,1)" font-size="21.67" font-weight="bold" text-anchor="middle" stroke="#000" stroke-width="0.45" fill="#000">G</text>
<text transform="translate(722.45,597.80) scale(0.66,1)" font-size="21.67" font-weight="bold" text-anchor="middle" stroke="#000" stroke-width="0.45" fill="#000">R</text>
<text transform="translate(733.55,597.80) scale(0.66,1)" font-size="21.67" font-weight="bold" text-anchor="middle" stroke="#000" stroke-width="0.45" fill="#000">A</text>
<text transform="translate(744.65,597.80) scale(0.66,1)" font-size="21.67" font-weight="bold" text-anchor="middle" stroke="#000" stroke-width="0.45" fill="#000">Y</text>
<text transform="translate(1316.00,277.60) scale(0.66,1)" font-size="22.22" font-weight="bold" text-anchor="middle" stroke="#000" stroke-width="0.9" fill="#000">N</text>
<text transform="translate(1339.20,277.60) scale(0.66,1)" font-size="22.22" font-weight="bold" text-anchor="middle" stroke="#000" stroke-width="0.9" fill="#000">1</text>
<text transform="translate(1358.50,277.60) scale(0.66,1)" font-size="22.22" font-weight="bold" text-anchor="middle" stroke="#000" stroke-width="0.45" fill="#000">G</text>
<text transform="translate(1369.50,277.60) scale(0.66,1)" font-size="22.22" font-weight="bold" text-anchor="middle" stroke="#000" stroke-width="0.45" fill="#000">R</text>
<text transform="translate(1380.50,277.60) scale(0.66,1)" font-size="22.22" font-weight="bold" text-anchor="middle" stroke="#000" stroke-width="0.45" fill="#000">A</text>
<text transform="translate(1391.50,277.60) scale(0.66,1)" font-size="22.22" font-weight="bold" text-anchor="middle" stroke="#000" stroke-width="0.45" fill="#000">Y</text>
<path d="M1327.65,305.2 H1284.7 L1256,336.5 L1252,338.5 V369.8 L1257,372.2 L1278,393.6 H1327.65" stroke-width="3.0" fill="none" />
<path d="M1327.65,324 H1281.2 Q1271,325.5 1267.6,333 L1265.3,346.6 H1261.6 V367.5 H1266 L1267.5,377 Q1271,386 1281,389 H1327.65" stroke-width="2.4" fill="none" />
<path d="M1327.65,327.2 H1283 Q1273,328.5 1269.7,337 V375.5 Q1272.5,384 1283,386 H1327.65" stroke-width="1.4" fill="none" />
<g transform="matrix(-1,0,0,1,2655.3,0)">
<path d="M1327.65,305.2 H1284.7 L1256,336.5 L1252,338.5 V369.8 L1257,372.2 L1278,393.6 H1327.65" stroke-width="3.0" fill="none" />
<path d="M1327.65,324 H1281.2 Q1271,325.5 1267.6,333 L1265.3,346.6 H1261.6 V367.5 H1266 L1267.5,377 Q1271,386 1281,389 H1327.65" stroke-width="2.4" fill="none" />
<path d="M1327.65,327.2 H1283 Q1273,328.5 1269.7,337 V375.5 Q1272.5,384 1283,386 H1327.65" stroke-width="1.4" fill="none" />
</g>
<path d="M1285,318.6 L1290,310.8 H1366 L1370.5,318.6 Z" stroke-width="2.6" fill="none" />
<rect x="1276.2" y="328.9" width="102.8" height="56.1" rx="6" stroke-width="3.0" fill="none"/>
<line x1="1276.2" y1="357.3" x2="1379" y2="357.3" stroke-width="2.8"/>
<line x1="1294.3" y1="328.9" x2="1294.3" y2="357.3" stroke-width="2.6"/>
<line x1="1327.3" y1="328.9" x2="1327.3" y2="357.3" stroke-width="2.6"/>
<line x1="1361" y1="328.9" x2="1361" y2="357.3" stroke-width="2.6"/>
<line x1="1294.3" y1="357.3" x2="1294.3" y2="385" stroke-width="2.6"/>
<line x1="1299.5" y1="357.3" x2="1299.5" y2="385" stroke-width="2.6"/>
<line x1="1318.9" y1="357.3" x2="1318.9" y2="385" stroke-width="2.6"/>
<line x1="1337.7" y1="357.3" x2="1337.7" y2="385" stroke-width="2.6"/>
<line x1="1356.3" y1="357.3" x2="1356.3" y2="385" stroke-width="2.6"/>
<line x1="1361.3" y1="357.3" x2="1361.3" y2="385" stroke-width="2.6"/>
<path d="M1283.60,338.40 L1285.90,336.90 M1286.20,336.60 V349.60" stroke-width="2.6" stroke-linecap="butt" fill="none"/>
<text transform="translate(1311.00,349.60) scale(0.86,1)" font-size="19.00" font-weight="bold" text-anchor="middle" stroke="#000" stroke-width="0.2" fill="#000">2</text>
<text transform="translate(1344.00,349.60) scale(0.86,1)" font-size="19.00" font-weight="bold" text-anchor="middle" stroke="#000" stroke-width="0.2" fill="#000">3</text>
<text transform="translate(1370.50,349.60) scale(0.86,1)" font-size="19.00" font-weight="bold" text-anchor="middle" stroke="#000" stroke-width="0.2" fill="#000">4</text>
<text transform="translate(1285.60,377.60) scale(0.86,1)" font-size="19.00" font-weight="bold" text-anchor="middle" stroke="#000" stroke-width="0.2" fill="#000">5</text>
<text transform="translate(1309.50,377.60) scale(0.86,1)" font-size="19.00" font-weight="bold" text-anchor="middle" stroke="#000" stroke-width="0.2" fill="#000">6</text>
<text transform="translate(1328.50,377.60) scale(0.86,1)" font-size="19.00" font-weight="bold" text-anchor="middle" stroke="#000" stroke-width="0.2" fill="#000">7</text>
<text transform="translate(1347.00,377.60) scale(0.86,1)" font-size="19.00" font-weight="bold" text-anchor="middle" stroke="#000" stroke-width="0.2" fill="#000">8</text>
<text transform="translate(1371.00,377.60) scale(0.86,1)" font-size="19.00" font-weight="bold" text-anchor="middle" stroke="#000" stroke-width="0.2" fill="#000">9</text>
<text transform="translate(29.25,602.60) scale(0.66,1)" font-size="22.22" font-weight="bold" text-anchor="middle" stroke="#000" stroke-width="0.9" fill="#000">O</text>
<text transform="translate(53.25,602.60) scale(0.66,1)" font-size="22.22" font-weight="bold" text-anchor="middle" stroke="#000" stroke-width="0.9" fill="#000">1</text>
<text transform="translate(71.60,602.60) scale(0.66,1)" font-size="22.22" font-weight="bold" text-anchor="middle" stroke="#000" stroke-width="0.45" fill="#000">G</text>
<text transform="translate(82.80,602.60) scale(0.66,1)" font-size="22.22" font-weight="bold" text-anchor="middle" stroke="#000" stroke-width="0.45" fill="#000">R</text>
<text transform="translate(94.00,602.60) scale(0.66,1)" font-size="22.22" font-weight="bold" text-anchor="middle" stroke="#000" stroke-width="0.45" fill="#000">A</text>
<text transform="translate(105.20,602.60) scale(0.66,1)" font-size="22.22" font-weight="bold" text-anchor="middle" stroke="#000" stroke-width="0.45" fill="#000">Y</text>
<path d="M24.5,629.2 H60 L62.5,631.5 L66.8,638.8 L68.4,648.5 L74.3,654 V679.5 L61.5,694 L40.5,696.8 L38.8,701.3 H23.5 L22.5,694.5 L9.7,681.5 V654.5 L14.6,649.3 L15.5,642.5 L20,633 Z" stroke-width="3.0" fill="none" />
<path d="M26,631.8 H58 L64,640.5 L65.2,650 L71,656 V678 L59.5,690.5 L38,693 L36.5,698 H26 L25.3,691.5 L12.8,679.5 V656 L17.6,650.8 L18.5,643.5 L22,635.5 Z" stroke-width="1.4" fill="none" />
<path d="M14,652.3 H24.2 V634.2 H59.6 V652.3 H70" stroke-width="2.2" fill="none" />
<path d="M26.8,652 V640 Q26.8,637.8 29,637.8 H55 Q57.2,637.8 57.2,640 V652" stroke-width="2.4" fill="none" />
<path d="M28,652 V642 M56,652 V642" stroke-width="1.3" fill="none" />
<rect x="32.7" y="642.2" width="18.2" height="8" rx="0" stroke-width="2.8" fill="none"/>
<path d="M26.3,652 H32 L35.5,655 H46.5 L50,652 H57.6" stroke-width="2.6" fill="none" />
<path d="M24.7,659.5 H58.3" stroke-width="2.8" fill="none" />
<circle cx="21" cy="659.8" r="3.2" stroke-width="2.4" fill="none"/>
<circle cx="62" cy="659.8" r="3.2" stroke-width="2.4" fill="none"/>
<rect x="38.2" y="657" width="6.2" height="3.6" rx="0" stroke-width="1.6" fill="none"/>
<path d="M21.3,663 V682.8 H61.7 V663" stroke-width="2.6" fill="none" />
<path d="M39.3,684 V665.5 L41.8,661.5 L44.3,665.5 V684" stroke-width="2.0" fill="none" />
<path d="M35.7,684.4 L41.9,688.4 L47.3,684.4" stroke-width="2.0" fill="none" />
<path d="M29.00,667.60 L31.30,666.10 M31.60,665.80 V678.80" stroke-width="2.6" stroke-linecap="butt" fill="none"/>
<text transform="translate(51.70,678.80) scale(0.86,1)" font-size="19.00" font-weight="bold" text-anchor="middle" stroke="#000" stroke-width="0.2" fill="#000">2</text>
<text transform="translate(204.50,601.10) scale(0.66,1)" font-size="20.16" font-weight="bold" text-anchor="middle" stroke="#000" stroke-width="0.9" fill="#000">O</text>
<text transform="translate(227.50,601.10) scale(0.66,1)" font-size="20.16" font-weight="bold" text-anchor="middle" stroke="#000" stroke-width="0.9" fill="#000">5</text>
<text transform="translate(246.39,601.10) scale(0.66,1)" font-size="20.16" font-weight="bold" text-anchor="middle" stroke="#000" stroke-width="0.45" fill="#000">B</text>
<text transform="translate(257.56,601.10) scale(0.66,1)" font-size="20.16" font-weight="bold" text-anchor="middle" stroke="#000" stroke-width="0.45" fill="#000">L</text>
<text transform="translate(268.74,601.10) scale(0.66,1)" font-size="20.16" font-weight="bold" text-anchor="middle" stroke="#000" stroke-width="0.45" fill="#000">U</text>
<text transform="translate(279.91,601.10) scale(0.66,1)" font-size="20.16" font-weight="bold" text-anchor="middle" stroke="#000" stroke-width="0.45" fill="#000">E</text>
<path d="M211.2,633.4 V627.9 H220.8 V633.4" stroke-width="2.8" fill="none" />
<path d="M214,634.5 V631.2 Q214,630 215.2,630 H217.8 V634.5" stroke-width="1.4" fill="none" />
<path d="M211.2,633.4 H198.5 L194.5,637.5 V691.9 H238 V637.5 L235.1,633.4 H220.8" stroke-width="3.4" fill="none" />
<path d="M194.5,646.5 H189.2 V677.5 H194.5" stroke-width="3.0" fill="none" />
<path d="M238,646.5 H243.6 V677.5 H238" stroke-width="3.0" fill="none" />
<rect x="200.7" y="637.6" width="31.2" height="45.8" rx="0" stroke-width="3.0" fill="none"/>
<line x1="200.7" y1="660.3" x2="231.9" y2="660.3" stroke-width="2.8"/>
<line x1="216.6" y1="637.6" x2="216.6" y2="683.4" stroke-width="2.8"/>
<path d="M206.5,691 V687.3 H226.5 V691" stroke-width="2.6" fill="none" />
<circle cx="208" cy="649" r="4.6" fill="#000" stroke="none"/>
<circle cx="208" cy="672" r="4.6" fill="#000" stroke="none"/>
<text transform="translate(224.50,655.26) scale(0.86,1)" font-size="17.50" font-weight="bold" text-anchor="middle" stroke="#000" stroke-width="0.2" fill="#000">2</text>
<text transform="translate(224.50,677.76) scale(0.86,1)" font-size="17.50" font-weight="bold" text-anchor="middle" stroke="#000" stroke-width="0.2" fill="#000">4</text>
<text transform="translate(421.85,599.10) scale(0.66,1)" font-size="20.85" font-weight="bold" text-anchor="middle" stroke="#000" stroke-width="0.9" fill="#000">S</text>
<text transform="translate(445.00,599.10) scale(0.66,1)" font-size="20.85" font-weight="bold" text-anchor="middle" stroke="#000" stroke-width="0.9" fill="#000">1</text>
<text transform="translate(464.50,599.10) scale(0.66,1)" font-size="20.85" font-weight="bold" text-anchor="middle" stroke="#000" stroke-width="0.45" fill="#000">G</text>
<text transform="translate(475.50,599.10) scale(0.66,1)" font-size="20.85" font-weight="bold" text-anchor="middle" stroke="#000" stroke-width="0.45" fill="#000">R</text>
<text transform="translate(486.50,599.10) scale(0.66,1)" font-size="20.85" font-weight="bold" text-anchor="middle" stroke="#000" stroke-width="0.45" fill="#000">A</text>
<text transform="translate(497.50,599.10) scale(0.66,1)" font-size="20.85" font-weight="bold" text-anchor="middle" stroke="#000" stroke-width="0.45" fill="#000">Y</text>
<path d="M410.7,627.7 H458.4 Q465,628.5 466,636 L467.5,642.7 Q469,649 480,653.5 Q497,659 503,670 Q508,679 507.8,690.5 V701 Q507,714 497,723 Q489,729 480,734.5 L475.5,742 H391.4 L388,733 Q378,729 372,723 Q361.5,713 361.3,701.8 V683.6 Q362,671 372,663.2 Q379,657 392,652 Q399,649 399.5,643 L400.5,636 Q402,628.5 410.7,627.7 Z" stroke-width="3.0" fill="none" />
<path d="M392.5,661 H474.3 Q490,663 496,672 Q498.5,676 498.5,690 V702 Q498,713 490,720 Q483,726 472.6,726.3 V735 H462.5 V726.3 H389 Q375,725 372,716 Q369.5,709 369.5,702 V690 Q369.5,676 373,672 Q378,663 392.5,661 Z" stroke-width="2.3" fill="none" />
<line x1="388" y1="733.4" x2="457" y2="733.4" stroke-width="1.8"/>
<path d="M408.7,669 V640.5 Q408.7,635.6 413.5,635.6 H454.5 Q459.3,635.6 459.3,640.5 V669 Z" stroke-width="2.4" fill="none" />
<path d="M416.6,669 V647.5 Q416.6,643.5 420.5,643.5 H447.5 Q451.3,643.5 451.3,647.5 V669" stroke-width="2.2" fill="none" />
<rect x="426" y="648" width="15.4" height="5" rx="0" stroke-width="2.0" fill="none"/>
<line x1="416.6" y1="659.8" x2="451.3" y2="659.8" stroke-width="2.0"/>
<path d="M409,653.2 H416.6 M409,657.5 H416.6 M451.3,653.2 H459.3 M451.3,657.5 H459.3" stroke-width="1.6" fill="none" />
<path d="M409,662.5 H416.6 M409,667 H416.6 M451.3,662.5 H459.3 M451.3,667 H459.3 M426,662.5 V667 H441.4 V662.5" stroke-width="1.6" fill="none" />
<rect x="381.5" y="673.2" width="105" height="40.8" rx="15" stroke-width="2.6" fill="none"/>
<rect x="387.8" y="679.5" width="92.4" height="28.8" rx="11" stroke-width="2.8" fill="none"/>
<line x1="418.4" y1="679.5" x2="418.4" y2="708.3" stroke-width="2.8"/>
<line x1="449.6" y1="679.5" x2="449.6" y2="708.3" stroke-width="2.8"/>
<path d="M400.40,689.78 L402.70,688.28 M403.00,687.98 V700.62" stroke-width="2.6" stroke-linecap="butt" fill="none"/>
<text transform="translate(434.00,700.62) scale(0.86,1)" font-size="18.50" font-weight="bold" text-anchor="middle" stroke="#000" stroke-width="0.2" fill="#000">2</text>
<text transform="translate(465.00,700.62) scale(0.86,1)" font-size="18.50" font-weight="bold" text-anchor="middle" stroke="#000" stroke-width="0.2" fill="#000">3</text>
<text transform="translate(929.70,596.00) scale(0.66,1)" font-size="21.95" font-weight="bold" text-anchor="middle" stroke="#000" stroke-width="0.9" fill="#000">S</text>
<text transform="translate(953.00,596.00) scale(0.66,1)" font-size="21.95" font-weight="bold" text-anchor="middle" stroke="#000" stroke-width="0.9" fill="#000">7</text>
<text transform="translate(971.67,596.00) scale(0.66,1)" font-size="21.95" font-weight="bold" text-anchor="middle" stroke="#000" stroke-width="0.45" fill="#000">B</text>
<text transform="translate(983.01,596.00) scale(0.66,1)" font-size="21.95" font-weight="bold" text-anchor="middle" stroke="#000" stroke-width="0.45" fill="#000">L</text>
<text transform="translate(994.35,596.00) scale(0.66,1)" font-size="21.95" font-weight="bold" text-anchor="middle" stroke="#000" stroke-width="0.45" fill="#000">A</text>
<text transform="translate(1005.69,596.00) scale(0.66,1)" font-size="21.95" font-weight="bold" text-anchor="middle" stroke="#000" stroke-width="0.45" fill="#000">C</text>
<text transform="translate(1017.03,596.00) scale(0.66,1)" font-size="21.95" font-weight="bold" text-anchor="middle" stroke="#000" stroke-width="0.45" fill="#000">K</text>
<path d="M899,624.5 H985.9 Q989,624.5 989,628 V647 Q990,656 999,660 Q1010,665 1017,671.5 L1028.5,681.4 V720.7 L1012,732 Q1000,740 992.4,745 V751.8 H890.9 V745.3 L886,745.3 Q876,737 866.3,728.9 L854.4,722.3 V681.4 L868,668.3 Q877,660 884.3,658.5 Q893,655 894,647 V628 Q894,624.5 899,624.5 Z" stroke-width="3.0" fill="none" />
<path d="M902.5,668.3 V633.5 H980.8 V668.3" stroke-width="2.4" fill="none" />
<line x1="902.5" y1="644.9" x2="980.8" y2="644.9" stroke-width="2.0"/>
<rect x="915" y="637.7" width="53.3" height="19.3" rx="4" stroke-width="2.8" fill="none"/>
<path d="M902.5,668.3 H886 Q874,672 871.2,683 H862.5 V697 H871.2 V717.4 Q874,729 889.2,737 H936 V745.5 H949 V737 H995 Q1008,729 1011,716.6 H1021 V706 H1011 V690 Q1008,672 999,668.3 H980.8" stroke-width="2.3" fill="none" />
<rect x="879.5" y="674.8" width="124.5" height="54.2" rx="15" stroke-width="2.6" fill="none"/>
<rect x="889" y="683.6" width="105.3" height="35.7" rx="7" stroke-width="2.8" fill="none"/>
<line x1="915" y1="683.6" x2="915" y2="719.3" stroke-width="2.6"/>
<line x1="941.7" y1="683.6" x2="941.7" y2="719.3" stroke-width="2.6"/>
<line x1="968.7" y1="683.6" x2="968.7" y2="719.3" stroke-width="2.6"/>
<path d="M899.80,697.78 L902.10,696.28 M902.40,695.98 V708.62" stroke-width="2.6" stroke-linecap="butt" fill="none"/>
<text transform="translate(928.50,708.62) scale(0.86,1)" font-size="18.50" font-weight="bold" text-anchor="middle" stroke="#000" stroke-width="0.2" fill="#000">2</text>
<text transform="translate(955.00,708.62) scale(0.86,1)" font-size="18.50" font-weight="bold" text-anchor="middle" stroke="#000" stroke-width="0.2" fill="#000">3</text>
<text transform="translate(981.00,708.62) scale(0.86,1)" font-size="18.50" font-weight="bold" text-anchor="middle" stroke="#000" stroke-width="0.2" fill="#000">4</text>
<text transform="translate(1209.17,593.80) scale(0.66,1)" font-size="20.71" font-weight="bold" text-anchor="middle" stroke="#000" stroke-width="0.45" fill="#000">S</text>
<text transform="translate(1220.30,593.80) scale(0.66,1)" font-size="20.71" font-weight="bold" text-anchor="middle" stroke="#000" stroke-width="0.45" fill="#000">1</text>
<text transform="translate(1231.43,593.80) scale(0.66,1)" font-size="20.71" font-weight="bold" text-anchor="middle" stroke="#000" stroke-width="0.45" fill="#000">5</text>
<text transform="translate(1258.26,593.80) scale(0.66,1)" font-size="20.71" font-weight="bold" text-anchor="middle" stroke="#000" stroke-width="0.45" fill="#000">B</text>
<text transform="translate(1269.39,593.80) scale(0.66,1)" font-size="20.71" font-weight="bold" text-anchor="middle" stroke="#000" stroke-width="0.45" fill="#000">L</text>
<text transform="translate(1280.51,593.80) scale(0.66,1)" font-size="20.71" font-weight="bold" text-anchor="middle" stroke="#000" stroke-width="0.45" fill="#000">U</text>
<text transform="translate(1291.64,593.80) scale(0.66,1)" font-size="20.71" font-weight="bold" text-anchor="middle" stroke="#000" stroke-width="0.45" fill="#000">E</text>
<rect x="1192.3" y="622.2" width="56.8" height="11.8" rx="5.9" stroke-width="2.6" fill="none"/>
<rect x="1211.5" y="621.2" width="18.4" height="9.3" rx="1" stroke-width="2.4" fill="none"/>
<path d="M1205,633.5 V668 Q1205,675.5 1198,675.8 H1157.8" stroke-width="2.6" fill="none" />
<path d="M1170.2,670 Q1177.7,669 1177.7,662 V640 Q1177.7,634 1183.4,634 Q1189,634 1189,640 V662 Q1189,668.5 1196,669" stroke-width="2.6" fill="none" />
<path d="M1150,671.2 H1205" stroke-width="2.6" fill="none" />
<rect x="1147.3" y="671" width="8.2" height="16.5" rx="4" stroke-width="2.6" fill="none"/>
<path d="M1157.8,675.8 V766 Q1157.8,768.5 1160.5,768.5 H1201" stroke-width="1.8" fill="none" />
<path d="M1161,681.5 H1205 M1161,681.5 V762" stroke-width="1.5" fill="none" />
<path d="M1167.2,761.5 V682.5 H1220.7 M1167.2,723 H1213.3 M1167.2,761.5 H1198 V723" stroke-width="2.6" fill="none" />
<rect x="1147.5" y="692" width="7" height="50.6" rx="0" stroke-width="3.0" fill="none"/>
<path d="M1150.5,742.6 V766 Q1150.5,769.5 1154,769.5 H1162.6" stroke-width="2.6" fill="none" />
<rect x="1158.2" y="753" width="4.4" height="10.5" rx="1" stroke-width="1.8" fill="none"/>
<path d="M1201,774 V737.5 Q1201,732 1206.5,732 H1220.7" stroke-width="2.4" fill="none" />
<path d="M1203.8,774 V739.5 Q1203.8,735 1208.3,735 H1220.7" stroke-width="1.4" fill="none" />
<path d="M1199,724.8 H1213.3" stroke-width="1.8" fill="none" />
<rect x="1202.8" y="756" width="8.2" height="9.8" rx="1" stroke-width="2.2" fill="none"/>
<path d="M1162.6,766 V776.5 H1220.7" stroke-width="2.4" fill="none" />
<path d="M1176,776.5 L1182.3,780.8 H1220.7" stroke-width="2.4" fill="none" />
<g transform="matrix(-1,0,0,1,2441.4,0)">
<path d="M1205,633.5 V668 Q1205,675.5 1198,675.8 H1157.8" stroke-width="2.6" fill="none" />
<path d="M1170.2,670 Q1177.7,669 1177.7,662 V640 Q1177.7,634 1183.4,634 Q1189,634 1189,640 V662 Q1189,668.5 1196,669" stroke-width="2.6" fill="none" />
<path d="M1150,671.2 H1205" stroke-width="2.6" fill="none" />
<rect x="1147.3" y="671" width="8.2" height="16.5" rx="4" stroke-width="2.6" fill="none"/>
<path d="M1157.8,675.8 V766 Q1157.8,768.5 1160.5,768.5 H1201" stroke-width="1.8" fill="none" />
<path d="M1161,681.5 H1205 M1161,681.5 V762" stroke-width="1.5" fill="none" />
<path d="M1167.2,761.5 V682.5 H1220.7 M1167.2,723 H1213.3 M1167.2,761.5 H1198 V723" stroke-width="2.6" fill="none" />
<rect x="1147.5" y="692" width="7" height="50.6" rx="0" stroke-width="3.0" fill="none"/>
<path d="M1150.5,742.6 V766 Q1150.5,769.5 1154,769.5 H1162.6" stroke-width="2.6" fill="none" />
<rect x="1158.2" y="753" width="4.4" height="10.5" rx="1" stroke-width="1.8" fill="none"/>
<path d="M1201,774 V737.5 Q1201,732 1206.5,732 H1220.7" stroke-width="2.4" fill="none" />
<path d="M1203.8,774 V739.5 Q1203.8,735 1208.3,735 H1220.7" stroke-width="1.4" fill="none" />
<path d="M1199,724.8 H1213.3" stroke-width="1.8" fill="none" />
<rect x="1202.8" y="756" width="8.2" height="9.8" rx="1" stroke-width="2.2" fill="none"/>
<path d="M1162.6,766 V776.5 H1220.7" stroke-width="2.4" fill="none" />
<path d="M1176,776.5 L1182.3,780.8 H1220.7" stroke-width="2.4" fill="none" />
</g>
<line x1="1220.7" y1="682.5" x2="1220.7" y2="718.5" stroke-width="2.6"/>
<rect x="1213.3" y="718.5" width="14.8" height="8" rx="0" stroke-width="2.4" fill="none"/>
<circle cx="1182.3" cy="742.4" r="4.5" fill="#000" stroke="none"/>
<circle cx="1258.3" cy="742.4" r="4.5" fill="#000" stroke="none"/>
<path d="M1192.00,697.96 L1194.30,696.46 M1194.60,696.16 V708.44" stroke-width="2.6" stroke-linecap="butt" fill="none"/>
<text transform="translate(1247.00,708.44) scale(0.86,1)" font-size="18.00" font-weight="bold" text-anchor="middle" stroke="#000" stroke-width="0.2" fill="#000">2</text>
<text transform="translate(74.80,849.60) scale(0.66,1)" font-size="22.50" font-weight="bold" text-anchor="middle" stroke="#000" stroke-width="0.9" fill="#000">T</text>
<text transform="translate(98.30,849.60) scale(0.66,1)" font-size="22.50" font-weight="bold" text-anchor="middle" stroke="#000" stroke-width="0.9" fill="#000">2</text>
<text transform="translate(117.29,849.60) scale(0.66,1)" font-size="22.50" font-weight="bold" text-anchor="middle" stroke="#000" stroke-width="0.45" fill="#000">B</text>
<text transform="translate(128.47,849.60) scale(0.66,1)" font-size="22.50" font-weight="bold" text-anchor="middle" stroke="#000" stroke-width="0.45" fill="#000">L</text>
<text transform="translate(139.65,849.60) scale(0.66,1)" font-size="22.50" font-weight="bold" text-anchor="middle" stroke="#000" stroke-width="0.45" fill="#000">A</text>
<text transform="translate(150.83,849.60) scale(0.66,1)" font-size="22.50" font-weight="bold" text-anchor="middle" stroke="#000" stroke-width="0.45" fill="#000">C</text>
<text transform="translate(162.01,849.60) scale(0.66,1)" font-size="22.50" font-weight="bold" text-anchor="middle" stroke="#000" stroke-width="0.45" fill="#000">K</text>
<path d="M49,877.6 H124.8 V891.7 Q125.5,898 143.4,901.4 Q157,906 157.2,918 H164.8 V944.8 H157.2 V952.4 Q156,962 149,963.4 H107.6 L99.3,973.1 H74.5 L66.2,963.4 H24.8 Q17.5,962 16.6,952.4 V944.8 H9.6 V918 H17.2 Q17.5,906 27.6,901.4 Q48,898 49.5,891.7 Z" stroke-width="3.0" fill="none" />
<path d="M57,907.2 H30 Q25.5,908 25.5,918 V927.6 H16.6 V944 H25.5 V950 Q26,956 35.9,958.3 H138 Q148,956 148.3,950 V944 H157.2 M157.2,927.6 H148.3 V918 Q148,908 143.4,907.2 H117" stroke-width="2.2" fill="none" />
<path d="M57,908.3 V883.4 H117 V908.3" stroke-width="2.6" fill="none" />
<line x1="57" y1="899.4" x2="117" y2="899.4" stroke-width="2.8"/>
<path d="M72,899 V891.3 H101.3 V899" stroke-width="2.4" fill="none" />
<rect x="49.3" y="915.5" width="75.2" height="35.7" rx="0" stroke-width="3.0" fill="none"/>
<line x1="68" y1="915.5" x2="68" y2="951.2" stroke-width="2.6"/>
<line x1="87.2" y1="915.5" x2="87.2" y2="951.2" stroke-width="2.6"/>
<line x1="105.3" y1="915.5" x2="105.3" y2="951.2" stroke-width="2.6"/>
<path d="M77.5,958.5 V965.5 H95.5 V958.5" stroke-width="2.4" fill="none" />
<path d="M56.50,928.54 L58.80,927.04 M59.10,926.74 V940.46" stroke-width="2.6" stroke-linecap="butt" fill="none"/>
<text transform="translate(77.50,940.16) scale(0.86,1)" font-size="20.00" font-weight="bold" text-anchor="middle" stroke="#000" stroke-width="0.2" fill="#000">2</text>
<text transform="translate(96.00,940.16) scale(0.86,1)" font-size="20.00" font-weight="bold" text-anchor="middle" stroke="#000" stroke-width="0.2" fill="#000">3</text>
<text transform="translate(115.00,940.16) scale(0.86,1)" font-size="20.00" font-weight="bold" text-anchor="middle" stroke="#000" stroke-width="0.2" fill="#000">4</text>
<text transform="translate(412.10,847.00) scale(0.66,1)" font-size="21.81" font-weight="bold" text-anchor="middle" stroke="#000" stroke-width="0.9" fill="#000">T</text>
<text transform="translate(435.50,847.00) scale(0.66,1)" font-size="21.81" font-weight="bold" text-anchor="middle" stroke="#000" stroke-width="0.9" fill="#000">8</text>
<text transform="translate(455.34,847.00) scale(0.66,1)" font-size="21.81" font-weight="bold" text-anchor="middle" stroke="#000" stroke-width="0.45" fill="#000">D</text>
<text transform="translate(466.01,847.00) scale(0.66,1)" font-size="21.81" font-weight="bold" text-anchor="middle" stroke="#000" stroke-width="0.45" fill="#000">A</text>
<text transform="translate(476.69,847.00) scale(0.66,1)" font-size="21.81" font-weight="bold" text-anchor="middle" stroke="#000" stroke-width="0.45" fill="#000">R</text>
<text transform="translate(487.36,847.00) scale(0.66,1)" font-size="21.81" font-weight="bold" text-anchor="middle" stroke="#000" stroke-width="0.45" fill="#000">K</text>
<text transform="translate(512.89,847.00) scale(0.66,1)" font-size="21.81" font-weight="bold" text-anchor="middle" stroke="#000" stroke-width="0.45" fill="#000">G</text>
<text transform="translate(523.86,847.00) scale(0.66,1)" font-size="21.81" font-weight="bold" text-anchor="middle" stroke="#000" stroke-width="0.45" fill="#000">R</text>
<text transform="translate(534.84,847.00) scale(0.66,1)" font-size="21.81" font-weight="bold" text-anchor="middle" stroke="#000" stroke-width="0.45" fill="#000">A</text>
<text transform="translate(545.81,847.00) scale(0.66,1)" font-size="21.81" font-weight="bold" text-anchor="middle" stroke="#000" stroke-width="0.45" fill="#000">Y</text>
<circle cx="424.4" cy="1015.8" r="141.2" stroke-width="3.2" fill="none"/>
<path d="M372.74,1125.7 A121,121 0 1 1 474.86,1125.7 Z" stroke-width="2.3" fill="none" />
<path d="M349.21,1098.5 A112.5,112.5 0 1 1 499.99,1098.5 Z" stroke-width="2.3" fill="none" />
<path d="M400.5,897.5 V886 Q400.5,884.5 402,884.5 H446.5 Q448,884.5 448,886 V897.5" stroke-width="2.2" fill="none" />
<path d="M407,886 V888.5 H441 V886" stroke-width="1.6" fill="none" />
<path d="M302.5,998.5 H297 Q295,998.5 295,1000.5 V1033 Q295,1035 297,1035 H302.5" stroke-width="3.2" fill="none" />
<path d="M543,976.5 L549,977 Q551,977.3 551.5,979.5 L554.5,1007 Q554.5,1010 552,1010.5 L546,1011.5" stroke-width="3.2" fill="none" />
<path d="M353.9,994.5 V953.5 Q353.9,949.5 357.9,949.5 H405.5 Q409.5,949.5 409.5,953.5 V994.5" stroke-width="2.8" fill="none" />
<path d="M438,994.5 V953.5 Q438,949.5 442,949.5 H490.8 Q494.8,949.5 494.8,953.5 V994.5" stroke-width="2.8" fill="none" />
<line x1="382.3" y1="949.5" x2="382.3" y2="994.5" stroke-width="2.5"/>
<line x1="466.4" y1="949.5" x2="466.4" y2="994.5" stroke-width="2.5"/>
<rect x="326.4" y="994.5" width="194.6" height="43.5" rx="5" stroke-width="2.8" fill="none"/>
<line x1="353.9" y1="994.5" x2="353.9" y2="1038" stroke-width="2.5"/>
<line x1="382.3" y1="994.5" x2="382.3" y2="1038" stroke-width="2.5"/>
<line x1="409.5" y1="994.5" x2="409.5" y2="1038" stroke-width="2.5"/>
<line x1="438" y1="994.5" x2="438" y2="1038" stroke-width="2.5"/>
<line x1="466.4" y1="994.5" x2="466.4" y2="1038" stroke-width="2.5"/>
<line x1="494.8" y1="994.5" x2="494.8" y2="1038" stroke-width="2.5"/>
<path d="M340.6,1038 V1077 Q340.6,1082 345.6,1082 H503 Q508,1082 508,1077 V1038" stroke-width="2.8" fill="none" />
<line x1="368" y1="1038" x2="368" y2="1082" stroke-width="2.5"/>
<line x1="396.5" y1="1038" x2="396.5" y2="1082" stroke-width="2.5"/>
<line x1="424.5" y1="1038" x2="424.5" y2="1082" stroke-width="2.5"/>
<line x1="453" y1="1038" x2="453" y2="1082" stroke-width="2.5"/>
<line x1="480.6" y1="1038" x2="480.6" y2="1082" stroke-width="2.5"/>
<circle cx="368.1" cy="971.2" r="4.6" fill="#000" stroke="none"/>
<circle cx="396.5" cy="971.2" r="4.6" fill="#000" stroke="none"/>
<circle cx="452.1" cy="971.2" r="4.6" fill="#000" stroke="none"/>
<circle cx="480.6" cy="971.2" r="4.6" fill="#000" stroke="none"/>
<text transform="translate(340.20,1022.42) scale(0.8,1)" font-size="18.13" font-weight="bold" text-anchor="middle" stroke="#000" stroke-width="0.35" fill="#000">X</text>
<circle cx="368.1" cy="1015.5" r="4.6" fill="#000" stroke="none"/>
<circle cx="396.5" cy="1015.5" r="4.6" fill="#000" stroke="none"/>
<circle cx="424.1" cy="1015.5" r="4.6" fill="#000" stroke="none"/>
<text transform="translate(452.30,1022.12) scale(0.86,1)" font-size="18.50" font-weight="bold" text-anchor="middle" stroke="#000" stroke-width="0.2" fill="#000">9</text>
<circle cx="480.6" cy="1015.5" r="4.6" fill="#000" stroke="none"/>
<text transform="translate(508.00,1022.12) scale(0.86,1)" font-size="18.50" font-weight="bold" text-anchor="middle" stroke="#000" stroke-width="0.2" fill="#000">7</text>
<text transform="translate(354.60,1067.32) scale(0.8,1)" font-size="18.13" font-weight="bold" text-anchor="middle" stroke="#000" stroke-width="0.35" fill="#000">X</text>
<text transform="translate(382.20,1067.02) scale(0.86,1)" font-size="18.50" font-weight="bold" text-anchor="middle" stroke="#000" stroke-width="0.2" fill="#000">5</text>
<circle cx="410" cy="1060.4" r="4.6" fill="#000" stroke="none"/>
<text transform="translate(438.70,1067.02) scale(0.86,1)" font-size="18.50" font-weight="bold" text-anchor="middle" stroke="#000" stroke-width="0.2" fill="#000">3</text>
<text transform="translate(466.50,1067.02) scale(0.86,1)" font-size="18.50" font-weight="bold" text-anchor="middle" stroke="#000" stroke-width="0.2" fill="#000">2</text>
<path d="M492.70,1056.18 L495.00,1054.68 M495.30,1054.38 V1067.02" stroke-width="2.6" stroke-linecap="butt" fill="none"/>
<text transform="translate(862.57,844.60) scale(0.66,1)" font-size="20.85" font-weight="bold" text-anchor="middle" stroke="#000" stroke-width="0.45" fill="#000">T</text>
<text transform="translate(872.50,844.60) scale(0.66,1)" font-size="20.85" font-weight="bold" text-anchor="middle" stroke="#000" stroke-width="0.45" fill="#000">1</text>
<text transform="translate(882.43,844.60) scale(0.66,1)" font-size="20.85" font-weight="bold" text-anchor="middle" stroke="#000" stroke-width="0.45" fill="#000">1</text>
<path d="M833.4,888 H699.5 Q694.2,888 694.2,893 V978 Q694.2,983.2 699.5,983.2 H753.9 L762,976 V941.4 H771.6 V976 L779.4,982.9 H966 L974,974.5 V939.5 H983 V974 L989.8,981 H1048 Q1052.8,981 1052.8,976 V892 Q1052.8,886.8 1048,886.8 H909.2" stroke-width="3.0" fill="none" />
<path d="M694.2,914.5 H684.5 V968 H694.2" stroke-width="2.6" fill="none" />
<path d="M1052.8,912 H1062.5 V964.5 H1052.8" stroke-width="2.6" fill="none" />
<path d="M705.5,888.5 V896 H747.5 V888.5 M791,888.5 V896 H829 V888.5 M914,887 V894.5 H954.5 V887 M997,886.8 V894 H1041.5 V886.8" stroke-width="2.4" fill="none" />
<path d="M752,888 L762,898 V925 H771.6 V898 L782,888" stroke-width="2.8" fill="none" />
<path d="M961.4,887.2 L974,897 V923 H983 V897 L992,887.2" stroke-width="2.8" fill="none" />
<path d="M833.4,888 L841,895.5 V918.6 H861 V882.5" stroke-width="2.8" fill="none" />
<path d="M820.5,888 L822,877 Q824,871.5 829,871.5 Q834.5,871.5 836.5,877 L841,897" stroke-width="2.6" fill="none" />
<path d="M823.5,888 L825,879 Q826,874.5 829,874.5 Q832.5,874.5 833.5,879 L836,890" stroke-width="1.5" fill="none" />
<rect x="853.6" y="871.5" width="10.2" height="10.5" rx="0" stroke-width="3.0" fill="none"/>
<rect x="879.4" y="871.5" width="11.2" height="10.2" rx="0" stroke-width="3.0" fill="none"/>
<line x1="863.8" y1="880.8" x2="879.4" y2="880.8" stroke-width="2.6"/>
<path d="M883.5,882 V918.5 H904 V900 L903.5,895" stroke-width="2.8" fill="none" />
<path d="M924,886.8 L923,877 Q921,871 915,871 Q909,871 907,877 L904,897" stroke-width="2.6" fill="none" />
<path d="M921,886.8 L920,879 Q918.5,874 915,874 Q911.5,874 910.5,879 L908.5,892" stroke-width="1.5" fill="none" />
<path d="M903.5,895 L909.2,886.8" stroke-width="2.4" fill="none" />
<rect x="702.7" y="906.9" width="50.5" height="68.1" rx="0" stroke-width="3.0" fill="none"/>
<line x1="702.7" y1="941" x2="753.2" y2="941" stroke-width="2.6"/>
<line x1="726.6" y1="906.9" x2="726.6" y2="975" stroke-width="2.6"/>
<path d="M783,940.3 V906.9 H835.5 V940.3" stroke-width="2.8" fill="none" />
<line x1="809" y1="906.9" x2="809" y2="974.4" stroke-width="2.6"/>
<path d="M910,939.5 V905.5 H962.2 V939.5" stroke-width="2.8" fill="none" />
<line x1="935.7" y1="905.5" x2="935.7" y2="973.4" stroke-width="2.6"/>
<path d="M783,940.3 H962.2 V973.4 H783 Z" stroke-width="2.8" fill="none" />
<line x1="835.5" y1="940.3" x2="835.5" y2="974" stroke-width="2.6"/>
<line x1="872.7" y1="940.3" x2="872.7" y2="974" stroke-width="2.6"/>
<line x1="909.2" y1="940.3" x2="909.2" y2="974" stroke-width="2.6"/>
<rect x="992" y="904.8" width="52.2" height="68.6" rx="0" stroke-width="3.0" fill="none"/>
<line x1="992" y1="939.5" x2="1044.2" y2="939.5" stroke-width="2.6"/>
<line x1="1018.5" y1="904.8" x2="1018.5" y2="973.4" stroke-width="2.6"/>
<path d="M707.7,983.5 V992 H1038.2 V981.5" stroke-width="2.4" fill="none" />
<line x1="752" y1="983" x2="781" y2="982.9" stroke-width="3.0"/>
<line x1="964" y1="981" x2="991" y2="981" stroke-width="3.0"/>
<path d="M796.5,992.5 L803,997.5 H940.5 L946,992.5" stroke-width="2.4" fill="none" />
<path d="M712.70,919.78 L715.00,918.28 M715.30,917.98 V930.62" stroke-width="2.6" stroke-linecap="butt" fill="none"/>
<circle cx="740.5" cy="923.7" r="4.7" fill="#000" stroke="none"/>
<circle cx="715.6" cy="957.6" r="4.7" fill="#000" stroke="none"/>
<circle cx="740.5" cy="957.6" r="4.7" fill="#000" stroke="none"/>
<circle cx="795.5" cy="922.7" r="4.7" fill="#000" stroke="none"/>
<circle cx="822" cy="922.7" r="4.7" fill="#000" stroke="none"/>
<circle cx="795.8" cy="957.6" r="4.7" fill="#000" stroke="none"/>
<circle cx="822" cy="957.6" r="4.7" fill="#000" stroke="none"/>
<circle cx="854" cy="957.6" r="4.7" fill="#000" stroke="none"/>
<path d="M881.95,953.18 L884.25,951.68 M884.55,951.38 V964.02" stroke-width="2.6" stroke-linecap="butt" fill="none"/>
<text transform="translate(895.45,964.02) scale(0.86,1)" font-size="18.50" font-weight="bold" text-anchor="middle" stroke="#000" stroke-width="0.2" fill="#000">4</text>
<circle cx="922.6" cy="922" r="4.7" fill="#000" stroke="none"/>
<circle cx="922.6" cy="957.3" r="4.7" fill="#000" stroke="none"/>
<circle cx="949" cy="922" r="4.7" fill="#000" stroke="none"/>
<circle cx="949" cy="957.3" r="4.7" fill="#000" stroke="none"/>
<circle cx="1004.8" cy="921.6" r="4.7" fill="#000" stroke="none"/>
<circle cx="1004.8" cy="957" r="4.7" fill="#000" stroke="none"/>
<circle cx="1031.4" cy="921.6" r="4.7" fill="#000" stroke="none"/>
<circle cx="1031.4" cy="957" r="4.7" fill="#000" stroke="none"/>
</svg>
</body></html>
